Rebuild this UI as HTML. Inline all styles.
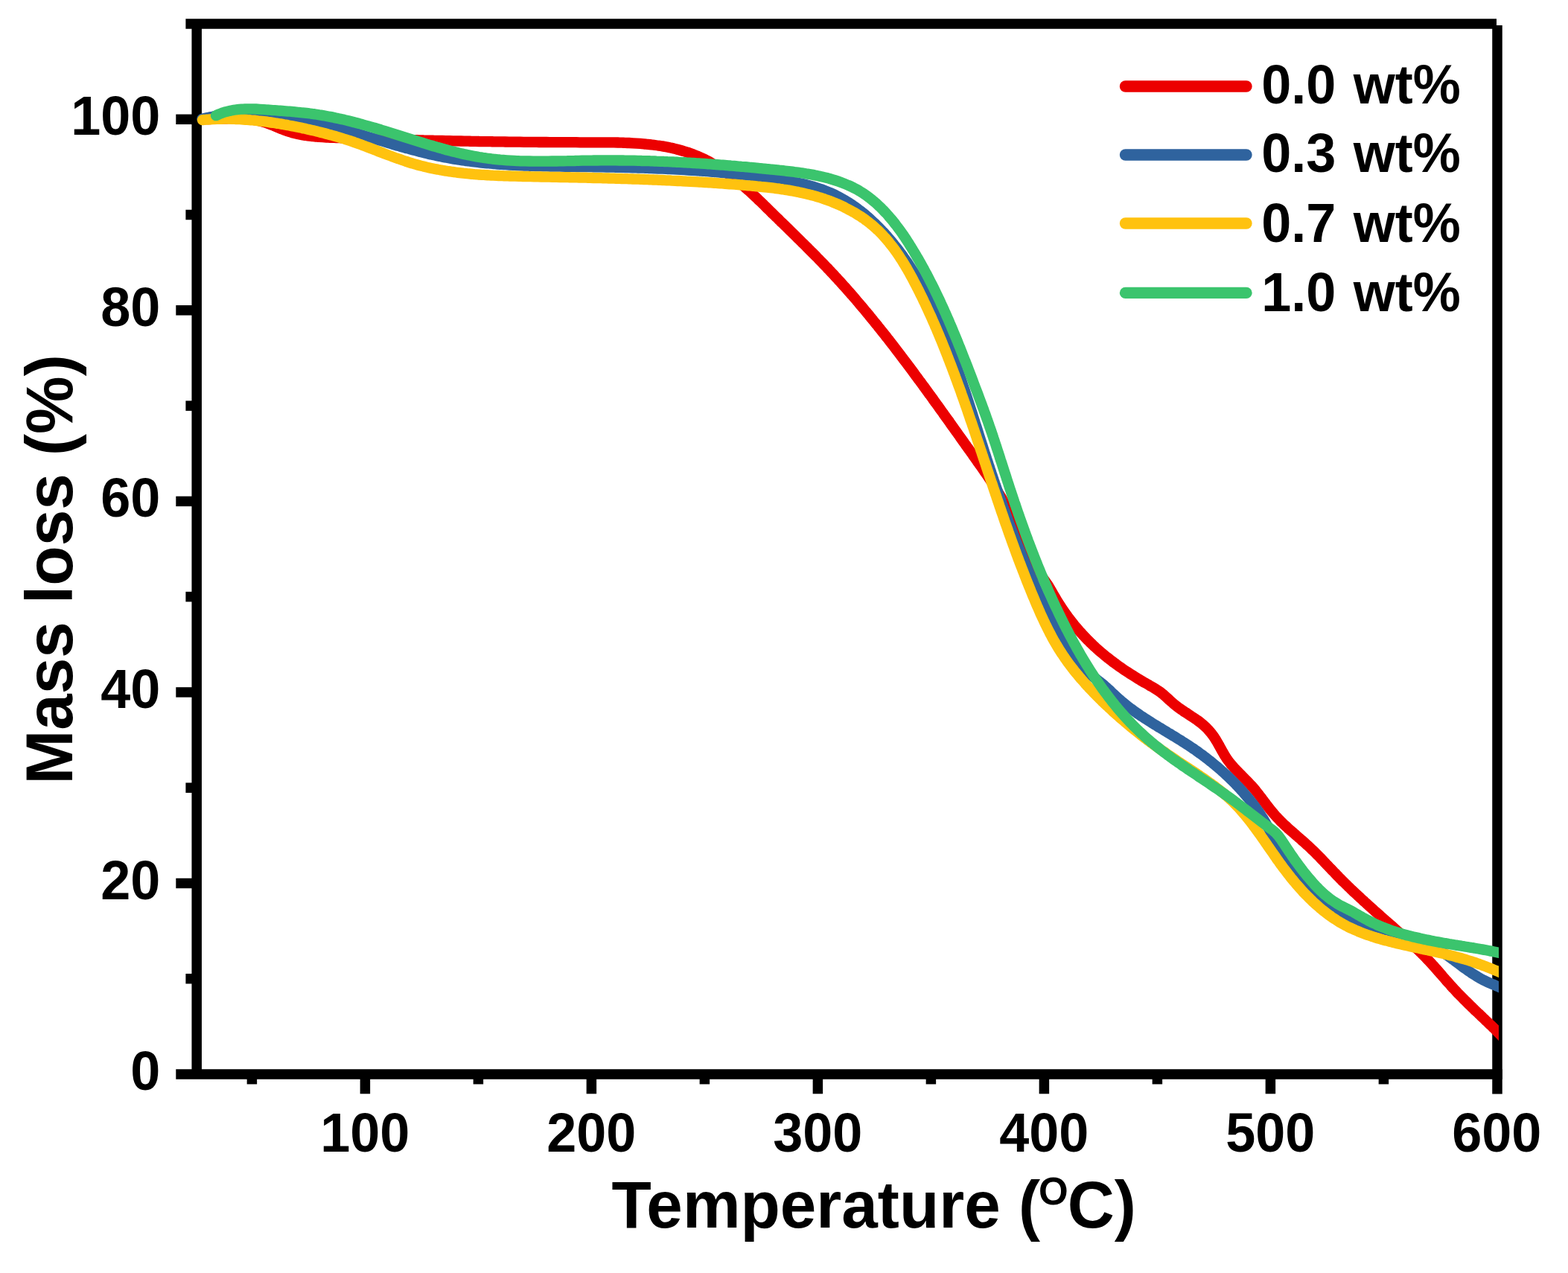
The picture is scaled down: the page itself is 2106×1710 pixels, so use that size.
<!DOCTYPE html>
<html lang="en">
<head>
<meta charset="utf-8">
<title>Mass loss vs Temperature</title>
<style>
html,body{margin:0;padding:0;background:#fff;}
body{width:2106px;height:1710px;overflow:hidden;}
svg{display:block;filter:blur(0.5px);}
text{font-family:"Liberation Sans",Arial,Helvetica,sans-serif;font-weight:bold;fill:#000;}
.tk{font-size:72px;}
.ttl{font-size:87.3px;}
.lg{font-size:72px;}
.ax{stroke:#000;fill:none;stroke-linecap:butt;}
.cv{fill:none;stroke-linecap:round;stroke-linejoin:round;}
</style>
</head>
<body>
<svg width="2106" height="1710" viewBox="0 0 2106 1710">
<rect x="0" y="0" width="2106" height="1710" fill="#ffffff"/>
<g class="ax" stroke-width="13.5">
<line x1="249.4" y1="32.0" x2="2010" y2="32.0"/>
<line x1="236.3" y1="1443.0" x2="2017.8" y2="1443.0"/>
<line x1="264.2" y1="32.0" x2="264.2" y2="1443.0"/>
<line x1="2011.0" y1="34" x2="2011.0" y2="1469.5"/>
<line x1="249.4" y1="1314.7" x2="264.2" y2="1314.7"/>
<line x1="236.3" y1="1186.5" x2="264.2" y2="1186.5"/>
<line x1="249.4" y1="1058.2" x2="264.2" y2="1058.2"/>
<line x1="236.3" y1="929.9" x2="264.2" y2="929.9"/>
<line x1="249.4" y1="801.6" x2="264.2" y2="801.6"/>
<line x1="236.3" y1="673.4" x2="264.2" y2="673.4"/>
<line x1="249.4" y1="545.1" x2="264.2" y2="545.1"/>
<line x1="236.3" y1="416.8" x2="264.2" y2="416.8"/>
<line x1="249.4" y1="288.5" x2="264.2" y2="288.5"/>
<line x1="236.3" y1="160.3" x2="264.2" y2="160.3"/>
<line x1="338.4" y1="1443.0" x2="338.4" y2="1456.4"/>
<line x1="490.4" y1="1443.0" x2="490.4" y2="1469.3"/>
<line x1="642.4" y1="1443.0" x2="642.4" y2="1456.4"/>
<line x1="794.4" y1="1443.0" x2="794.4" y2="1469.3"/>
<line x1="946.4" y1="1443.0" x2="946.4" y2="1456.4"/>
<line x1="1098.4" y1="1443.0" x2="1098.4" y2="1469.3"/>
<line x1="1250.4" y1="1443.0" x2="1250.4" y2="1456.4"/>
<line x1="1402.4" y1="1443.0" x2="1402.4" y2="1469.3"/>
<line x1="1554.4" y1="1443.0" x2="1554.4" y2="1456.4"/>
<line x1="1706.4" y1="1443.0" x2="1706.4" y2="1469.3"/>
<line x1="1858.4" y1="1443.0" x2="1858.4" y2="1456.4"/>
</g>
<defs><clipPath id="plotclip"><rect x="258" y="39" width="1755" height="1400"/></clipPath></defs>
<g class="cv" stroke-width="14.3" clip-path="url(#plotclip)">
<path stroke="#ec0000" d="M272.0 160.0 C272.8 160.0 275.3 160.1 276.9 160.0 C278.6 160.0 280.2 160.0 281.9 160.0 C283.6 159.9 285.2 159.9 286.9 159.8 C288.6 159.8 290.2 159.7 291.9 159.7 C293.6 159.6 295.3 159.6 297.0 159.5 C298.7 159.4 300.3 159.4 302.0 159.3 C303.7 159.3 305.4 159.2 307.1 159.2 C308.8 159.2 310.5 159.1 312.2 159.1 C313.8 159.1 315.5 159.1 317.2 159.1 C318.9 159.1 320.6 159.2 322.3 159.2 C323.9 159.3 325.6 159.3 327.3 159.4 C329.0 159.5 330.6 159.7 332.3 159.8 C333.9 160.0 335.6 160.1 337.2 160.3 C338.9 160.6 340.5 160.8 342.1 161.1 C343.8 161.4 345.4 161.7 347.0 162.0 C348.6 162.4 350.2 162.8 351.8 163.2 C353.4 163.6 355.0 164.1 356.6 164.6 C358.1 165.2 359.7 165.7 361.2 166.3 C362.8 166.9 364.3 167.5 365.9 168.2 C367.4 168.8 369.0 169.5 370.5 170.1 C372.1 170.7 373.6 171.4 375.1 172.1 C376.7 172.7 378.2 173.3 379.8 173.9 C381.3 174.5 382.9 175.1 384.4 175.7 C386.0 176.2 387.6 176.7 389.2 177.2 C390.8 177.7 392.3 178.1 393.9 178.6 C395.5 179.0 397.2 179.4 398.8 179.7 C400.4 180.1 402.0 180.4 403.6 180.8 C405.3 181.1 406.9 181.4 408.5 181.6 C410.2 181.9 411.8 182.1 413.5 182.4 C415.1 182.6 416.8 182.8 418.4 183.0 C420.1 183.2 421.7 183.3 423.4 183.5 C425.1 183.6 426.7 183.8 428.4 183.9 C430.1 184.0 431.8 184.1 433.4 184.2 C435.1 184.3 436.8 184.4 438.5 184.5 C440.2 184.6 441.8 184.7 443.5 184.8 C445.2 184.8 446.9 184.9 448.6 184.9 C450.3 185.0 452.0 185.1 453.6 185.1 C455.3 185.2 457.0 185.2 458.7 185.3 C460.4 185.3 462.0 185.4 463.7 185.5 C465.4 185.5 467.1 185.6 468.8 185.6 C470.4 185.7 472.1 185.7 473.8 185.8 C475.5 185.8 477.2 185.9 478.8 185.9 C480.5 186.0 482.2 186.0 483.9 186.1 C485.5 186.2 487.2 186.2 488.9 186.3 C490.6 186.3 492.2 186.4 493.9 186.4 C495.6 186.5 497.3 186.5 498.9 186.6 C500.6 186.6 502.3 186.7 503.9 186.7 C505.6 186.8 507.3 186.8 509.0 186.9 C510.6 186.9 512.3 187.0 514.0 187.0 C515.6 187.1 517.3 187.1 519.0 187.1 C520.6 187.2 522.3 187.2 524.0 187.3 C525.6 187.3 527.3 187.4 529.0 187.4 C530.6 187.5 532.3 187.5 534.0 187.6 C535.6 187.6 537.3 187.7 539.0 187.7 C540.6 187.7 542.3 187.8 544.0 187.8 C545.6 187.9 547.3 187.9 548.9 188.0 C550.6 188.0 552.3 188.0 553.9 188.1 C555.6 188.1 557.3 188.2 558.9 188.2 C560.6 188.3 562.3 188.3 563.9 188.3 C565.6 188.4 567.2 188.4 568.9 188.5 C570.6 188.5 572.2 188.5 573.9 188.6 C575.5 188.6 577.2 188.7 578.9 188.7 C580.5 188.7 582.2 188.8 583.8 188.8 C585.5 188.8 587.2 188.9 588.8 188.9 C590.5 188.9 592.2 189.0 593.8 189.0 C595.5 189.1 597.1 189.1 598.8 189.1 C600.5 189.2 602.1 189.2 603.8 189.2 C605.4 189.3 607.1 189.3 608.8 189.3 C610.4 189.4 612.1 189.4 613.7 189.4 C615.4 189.5 617.0 189.5 618.7 189.5 C620.4 189.6 622.0 189.6 623.7 189.6 C625.3 189.7 627.0 189.7 628.7 189.7 C630.3 189.7 632.0 189.8 633.7 189.8 C635.3 189.8 637.0 189.9 638.6 189.9 C640.3 189.9 642.0 189.9 643.6 190.0 C645.3 190.0 646.9 190.0 648.6 190.1 C650.3 190.1 651.9 190.1 653.6 190.1 C655.2 190.2 656.9 190.2 658.6 190.2 C660.2 190.2 661.9 190.3 663.6 190.3 C665.2 190.3 666.9 190.3 668.5 190.4 C670.2 190.4 671.9 190.4 673.5 190.4 C675.2 190.4 676.9 190.5 678.5 190.5 C680.2 190.5 681.9 190.5 683.5 190.6 C685.2 190.6 686.9 190.6 688.5 190.6 C690.2 190.6 691.8 190.7 693.5 190.7 C695.2 190.7 696.8 190.7 698.5 190.7 C700.2 190.8 701.9 190.8 703.5 190.8 C705.2 190.8 706.9 190.8 708.5 190.8 C710.2 190.9 711.9 190.9 713.5 190.9 C715.2 190.9 716.9 190.9 718.5 190.9 C720.2 190.9 721.9 191.0 723.6 191.0 C725.2 191.0 726.9 191.0 728.6 191.0 C730.3 191.0 731.9 191.0 733.6 191.0 C735.3 191.1 737.0 191.1 738.6 191.1 C740.3 191.1 742.0 191.1 743.7 191.1 C745.3 191.1 747.0 191.1 748.7 191.1 C750.4 191.2 752.0 191.2 753.7 191.2 C755.4 191.2 757.1 191.2 758.8 191.2 C760.4 191.2 762.1 191.2 763.8 191.2 C765.5 191.2 767.2 191.2 768.9 191.2 C770.5 191.2 772.2 191.2 773.9 191.2 C775.6 191.3 777.3 191.3 779.0 191.3 C780.7 191.3 782.4 191.3 784.0 191.3 C785.7 191.3 787.4 191.3 789.1 191.3 C790.8 191.3 792.5 191.3 794.2 191.3 C795.9 191.3 797.6 191.3 799.3 191.3 C801.0 191.3 802.6 191.3 804.3 191.3 C806.0 191.3 807.7 191.3 809.4 191.3 C811.1 191.3 812.8 191.3 814.5 191.3 C816.2 191.3 817.9 191.4 819.6 191.4 C821.3 191.4 823.0 191.4 824.7 191.4 C826.4 191.5 828.1 191.5 829.7 191.5 C831.4 191.6 833.1 191.6 834.8 191.7 C836.5 191.7 838.2 191.8 839.9 191.8 C841.5 191.9 843.2 192.0 844.9 192.0 C846.6 192.1 848.3 192.2 850.0 192.3 C851.6 192.4 853.3 192.5 855.0 192.6 C856.6 192.7 858.3 192.8 860.0 192.9 C861.7 193.1 863.3 193.2 865.0 193.3 C866.6 193.5 868.3 193.6 870.0 193.8 C871.6 194.0 873.3 194.2 874.9 194.4 C876.6 194.5 878.2 194.8 879.8 195.0 C881.5 195.2 883.1 195.4 884.8 195.7 C886.4 195.9 888.0 196.2 889.6 196.4 C891.3 196.7 892.9 197.0 894.5 197.3 C896.1 197.6 897.7 197.9 899.3 198.3 C901.0 198.6 902.6 198.9 904.2 199.3 C905.8 199.7 907.3 200.0 908.9 200.5 C910.5 200.9 912.1 201.3 913.7 201.7 C915.3 202.1 916.8 202.6 918.4 203.1 C920.0 203.5 921.5 204.0 923.1 204.5 C924.6 205.1 926.2 205.6 927.7 206.1 C929.2 206.7 930.8 207.3 932.3 207.9 C933.8 208.5 935.4 209.1 936.9 209.7 C938.4 210.3 939.9 211.0 941.4 211.7 C942.9 212.4 944.4 213.1 945.9 213.8 C947.4 214.5 948.8 215.3 950.3 216.1 C951.8 216.8 953.2 217.6 954.7 218.4 C956.1 219.3 957.6 220.1 959.0 220.9 C960.5 221.8 961.9 222.7 963.3 223.6 C964.8 224.4 966.2 225.3 967.6 226.3 C969.0 227.2 970.4 228.1 971.8 229.1 C973.2 230.0 974.6 231.0 975.9 232.0 C977.3 233.0 978.7 234.0 980.0 235.0 C981.4 236.0 982.7 237.0 984.1 238.0 C985.4 239.1 986.8 240.1 988.1 241.2 C989.4 242.2 990.7 243.3 992.0 244.4 C993.3 245.4 994.6 246.5 995.9 247.6 C997.2 248.7 998.5 249.8 999.8 250.9 C1001.1 252.0 1002.3 253.1 1003.6 254.2 C1004.8 255.4 1006.1 256.5 1007.3 257.6 C1008.6 258.7 1009.8 259.9 1011.0 261.0 C1012.2 262.1 1013.5 263.3 1014.7 264.4 C1015.9 265.6 1017.1 266.7 1018.3 267.9 C1019.5 269.0 1020.7 270.2 1021.9 271.3 C1023.1 272.5 1024.3 273.7 1025.5 274.8 C1026.7 276.0 1027.9 277.1 1029.1 278.3 C1030.2 279.5 1031.4 280.6 1032.6 281.8 C1033.8 283.0 1035.0 284.1 1036.2 285.3 C1037.3 286.5 1038.5 287.6 1039.7 288.8 C1040.9 290.0 1042.1 291.1 1043.3 292.3 C1044.5 293.5 1045.7 294.6 1046.8 295.8 C1048.0 297.0 1049.2 298.1 1050.4 299.3 C1051.6 300.4 1052.8 301.6 1054.0 302.8 C1055.2 303.9 1056.4 305.1 1057.6 306.3 C1058.8 307.4 1059.9 308.6 1061.1 309.8 C1062.3 310.9 1063.5 312.1 1064.7 313.3 C1065.9 314.4 1067.1 315.6 1068.3 316.8 C1069.5 317.9 1070.7 319.1 1071.8 320.3 C1073.0 321.4 1074.2 322.6 1075.4 323.8 C1076.6 325.0 1077.8 326.1 1079.0 327.3 C1080.2 328.5 1081.3 329.6 1082.5 330.8 C1083.7 332.0 1084.9 333.2 1086.1 334.4 C1087.3 335.5 1088.4 336.7 1089.6 337.9 C1090.8 339.1 1092.0 340.3 1093.1 341.4 C1094.3 342.6 1095.5 343.8 1096.7 345.0 C1097.8 346.2 1099.0 347.4 1100.2 348.6 C1101.3 349.8 1102.5 351.0 1103.7 352.2 C1104.8 353.4 1106.0 354.6 1107.1 355.8 C1108.3 357.0 1109.4 358.2 1110.6 359.4 C1111.8 360.6 1112.9 361.8 1114.0 363.0 C1115.2 364.2 1116.3 365.5 1117.5 366.7 C1118.6 367.9 1119.8 369.1 1120.9 370.3 C1122.0 371.6 1123.2 372.8 1124.3 374.0 C1125.4 375.2 1126.5 376.5 1127.7 377.7 C1128.8 378.9 1129.9 380.2 1131.0 381.4 C1132.1 382.7 1133.3 383.9 1134.4 385.2 C1135.5 386.4 1136.6 387.6 1137.7 388.9 C1138.8 390.1 1139.9 391.4 1141.0 392.7 C1142.1 393.9 1143.2 395.2 1144.3 396.4 C1145.4 397.7 1146.5 398.9 1147.6 400.2 C1148.7 401.5 1149.8 402.7 1150.8 404.0 C1151.9 405.3 1153.0 406.6 1154.1 407.8 C1155.2 409.1 1156.3 410.4 1157.3 411.7 C1158.4 412.9 1159.5 414.2 1160.6 415.5 C1161.6 416.8 1162.7 418.1 1163.8 419.3 C1164.8 420.6 1165.9 421.9 1167.0 423.2 C1168.0 424.5 1169.1 425.8 1170.1 427.1 C1171.2 428.4 1172.3 429.7 1173.3 431.0 C1174.4 432.3 1175.4 433.6 1176.5 434.9 C1177.5 436.2 1178.6 437.5 1179.6 438.8 C1180.7 440.1 1181.7 441.4 1182.7 442.7 C1183.8 444.0 1184.8 445.3 1185.9 446.6 C1186.9 447.9 1187.9 449.2 1189.0 450.5 C1190.0 451.9 1191.0 453.2 1192.1 454.5 C1193.1 455.8 1194.1 457.1 1195.1 458.4 C1196.2 459.8 1197.2 461.1 1198.2 462.4 C1199.2 463.7 1200.3 465.0 1201.3 466.4 C1202.3 467.7 1203.3 469.0 1204.3 470.3 C1205.4 471.7 1206.4 473.0 1207.4 474.3 C1208.4 475.7 1209.4 477.0 1210.4 478.3 C1211.4 479.7 1212.4 481.0 1213.4 482.3 C1214.5 483.7 1215.5 485.0 1216.5 486.3 C1217.5 487.7 1218.5 489.0 1219.5 490.3 C1220.5 491.7 1221.5 493.0 1222.5 494.4 C1223.5 495.7 1224.5 497.0 1225.5 498.4 C1226.5 499.7 1227.5 501.1 1228.4 502.4 C1229.4 503.7 1230.4 505.1 1231.4 506.4 C1232.4 507.8 1233.4 509.1 1234.4 510.5 C1235.4 511.8 1236.4 513.2 1237.4 514.5 C1238.3 515.8 1239.3 517.2 1240.3 518.5 C1241.3 519.9 1242.3 521.2 1243.3 522.6 C1244.3 523.9 1245.2 525.3 1246.2 526.6 C1247.2 528.0 1248.2 529.3 1249.2 530.7 C1250.1 532.0 1251.1 533.4 1252.1 534.7 C1253.1 536.1 1254.0 537.4 1255.0 538.8 C1256.0 540.1 1257.0 541.5 1257.9 542.8 C1258.9 544.2 1259.9 545.5 1260.9 546.9 C1261.8 548.3 1262.8 549.6 1263.8 551.0 C1264.8 552.3 1265.7 553.7 1266.7 555.0 C1267.7 556.4 1268.6 557.7 1269.6 559.1 C1270.6 560.4 1271.5 561.8 1272.5 563.1 C1273.5 564.5 1274.5 565.8 1275.4 567.2 C1276.4 568.6 1277.4 569.9 1278.3 571.3 C1279.3 572.6 1280.3 574.0 1281.2 575.3 C1282.2 576.7 1283.2 578.1 1284.1 579.4 C1285.1 580.8 1286.1 582.1 1287.0 583.5 C1288.0 584.8 1289.0 586.2 1289.9 587.6 C1290.9 588.9 1291.9 590.3 1292.8 591.6 C1293.8 593.0 1294.8 594.4 1295.7 595.7 C1296.7 597.1 1297.7 598.4 1298.6 599.8 C1299.6 601.2 1300.6 602.5 1301.5 603.9 C1302.5 605.2 1303.5 606.6 1304.4 608.0 C1305.4 609.3 1306.4 610.7 1307.3 612.1 C1308.3 613.4 1309.3 614.8 1310.2 616.2 C1311.2 617.5 1312.2 618.9 1313.1 620.3 C1314.1 621.6 1315.1 623.0 1316.0 624.4 C1317.0 625.7 1318.0 627.1 1318.9 628.5 C1319.9 629.8 1320.8 631.2 1321.8 632.6 C1322.7 634.0 1323.7 635.4 1324.6 636.7 C1325.6 638.1 1326.5 639.5 1327.5 640.9 C1328.4 642.3 1329.3 643.7 1330.3 645.1 C1331.2 646.5 1332.1 647.9 1333.0 649.3 C1333.9 650.7 1334.8 652.1 1335.7 653.5 C1336.6 654.9 1337.5 656.3 1338.4 657.7 C1339.3 659.1 1340.2 660.6 1341.0 662.0 C1341.9 663.4 1342.7 664.9 1343.6 666.3 C1344.4 667.7 1345.3 669.2 1346.1 670.6 C1346.9 672.1 1347.7 673.5 1348.5 675.0 C1349.3 676.4 1350.1 677.9 1350.9 679.4 C1351.7 680.9 1352.4 682.3 1353.2 683.8 C1353.9 685.3 1354.7 686.8 1355.4 688.3 C1356.1 689.8 1356.8 691.3 1357.5 692.8 C1358.2 694.4 1358.9 695.9 1359.6 697.4 C1360.2 698.9 1360.9 700.5 1361.6 702.0 C1362.2 703.5 1362.9 705.1 1363.5 706.6 C1364.1 708.2 1364.8 709.7 1365.4 711.2 C1366.0 712.8 1366.7 714.3 1367.3 715.9 C1367.9 717.4 1368.6 719.0 1369.2 720.5 C1369.9 722.1 1370.5 723.6 1371.1 725.1 C1371.8 726.7 1372.4 728.2 1373.1 729.7 C1373.8 731.3 1374.4 732.8 1375.1 734.3 C1375.8 735.8 1376.5 737.3 1377.2 738.8 C1377.9 740.4 1378.7 741.9 1379.4 743.3 C1380.2 744.8 1380.9 746.3 1381.7 747.8 C1382.5 749.2 1383.3 750.7 1384.1 752.1 C1384.9 753.6 1385.8 755.0 1386.6 756.4 C1387.5 757.9 1388.4 759.3 1389.3 760.7 C1390.3 762.1 1391.2 763.4 1392.2 764.8 C1393.2 766.2 1394.2 767.5 1395.2 768.9 C1396.1 770.2 1397.2 771.6 1398.2 772.9 C1399.2 774.3 1400.2 775.6 1401.1 777.0 C1402.1 778.3 1403.1 779.7 1404.1 781.1 C1405.0 782.4 1406.0 783.8 1406.9 785.2 C1407.8 786.6 1408.7 788.0 1409.5 789.4 C1410.4 790.8 1411.2 792.3 1412.1 793.7 C1412.9 795.1 1413.7 796.5 1414.5 798.0 C1415.4 799.4 1416.2 800.8 1417.0 802.3 C1417.8 803.7 1418.7 805.1 1419.5 806.6 C1420.4 808.0 1421.3 809.4 1422.2 810.8 C1423.0 812.2 1423.9 813.6 1424.9 815.0 C1425.8 816.4 1426.7 817.8 1427.6 819.2 C1428.6 820.5 1429.5 821.9 1430.5 823.3 C1431.5 824.6 1432.4 826.0 1433.4 827.4 C1434.4 828.7 1435.4 830.1 1436.4 831.4 C1437.4 832.7 1438.5 834.1 1439.5 835.4 C1440.5 836.7 1441.6 838.0 1442.6 839.3 C1443.7 840.6 1444.8 841.9 1445.9 843.2 C1446.9 844.5 1448.0 845.7 1449.1 847.0 C1450.2 848.2 1451.4 849.5 1452.5 850.7 C1453.6 852.0 1454.7 853.2 1455.9 854.4 C1457.0 855.7 1458.2 856.9 1459.4 858.1 C1460.5 859.3 1461.7 860.5 1462.9 861.6 C1464.1 862.8 1465.3 864.0 1466.5 865.1 C1467.7 866.3 1468.9 867.4 1470.1 868.6 C1471.3 869.7 1472.6 870.8 1473.8 871.9 C1475.1 873.0 1476.3 874.1 1477.6 875.2 C1478.8 876.3 1480.1 877.4 1481.4 878.4 C1482.7 879.5 1483.9 880.6 1485.2 881.6 C1486.5 882.6 1487.8 883.7 1489.1 884.7 C1490.4 885.7 1491.8 886.7 1493.1 887.7 C1494.4 888.8 1495.7 889.8 1497.1 890.7 C1498.4 891.7 1499.8 892.7 1501.1 893.7 C1502.5 894.6 1503.8 895.6 1505.2 896.6 C1506.6 897.5 1507.9 898.5 1509.3 899.4 C1510.7 900.3 1512.1 901.3 1513.5 902.2 C1514.9 903.1 1516.3 904.0 1517.7 904.9 C1519.1 905.8 1520.5 906.7 1521.9 907.6 C1523.3 908.5 1524.7 909.4 1526.2 910.2 C1527.6 911.1 1529.0 912.0 1530.4 912.8 C1531.9 913.7 1533.3 914.6 1534.8 915.4 C1536.2 916.3 1537.7 917.1 1539.1 917.9 C1540.6 918.8 1542.0 919.6 1543.5 920.4 C1544.9 921.3 1546.4 922.1 1547.8 922.9 C1549.3 923.8 1550.7 924.7 1552.1 925.5 C1553.5 926.4 1554.9 927.3 1556.3 928.3 C1557.7 929.2 1559.0 930.2 1560.3 931.2 C1561.6 932.3 1562.9 933.3 1564.1 934.4 C1565.4 935.5 1566.6 936.6 1567.8 937.7 C1569.1 938.8 1570.3 940.0 1571.5 941.1 C1572.8 942.2 1574.0 943.3 1575.3 944.4 C1576.5 945.5 1577.8 946.6 1579.1 947.6 C1580.4 948.7 1581.7 949.7 1583.1 950.7 C1584.5 951.7 1585.8 952.6 1587.2 953.6 C1588.6 954.5 1590.0 955.5 1591.4 956.4 C1592.8 957.3 1594.3 958.2 1595.7 959.2 C1597.1 960.1 1598.5 961.0 1599.9 961.9 C1601.3 962.8 1602.7 963.8 1604.1 964.7 C1605.5 965.7 1606.9 966.6 1608.3 967.6 C1609.6 968.5 1610.9 969.5 1612.3 970.6 C1613.6 971.6 1614.8 972.6 1616.1 973.7 C1617.3 974.8 1618.5 975.9 1619.7 977.0 C1620.9 978.2 1622.0 979.3 1623.1 980.6 C1624.3 981.8 1625.3 983.0 1626.4 984.3 C1627.4 985.6 1628.4 986.9 1629.3 988.2 C1630.3 989.5 1631.2 990.9 1632.1 992.3 C1633.0 993.7 1633.8 995.1 1634.7 996.6 C1635.5 998.0 1636.3 999.5 1637.1 1000.9 C1638.0 1002.4 1638.7 1003.9 1639.6 1005.3 C1640.4 1006.8 1641.2 1008.3 1642.0 1009.7 C1642.8 1011.2 1643.6 1012.6 1644.5 1014.1 C1645.4 1015.5 1646.2 1016.9 1647.2 1018.3 C1648.1 1019.7 1649.1 1021.0 1650.0 1022.3 C1651.0 1023.7 1652.1 1025.0 1653.1 1026.3 C1654.2 1027.5 1655.3 1028.8 1656.4 1030.0 C1657.5 1031.3 1658.6 1032.5 1659.7 1033.7 C1660.9 1034.9 1662.0 1036.1 1663.2 1037.3 C1664.4 1038.5 1665.6 1039.7 1666.7 1040.9 C1667.9 1042.1 1669.1 1043.3 1670.3 1044.5 C1671.5 1045.7 1672.7 1046.9 1673.8 1048.1 C1675.0 1049.3 1676.2 1050.5 1677.3 1051.7 C1678.5 1052.9 1679.6 1054.1 1680.8 1055.4 C1681.9 1056.6 1683.0 1057.9 1684.1 1059.1 C1685.2 1060.4 1686.2 1061.7 1687.3 1063.0 C1688.3 1064.3 1689.4 1065.6 1690.4 1066.9 C1691.4 1068.2 1692.4 1069.6 1693.4 1070.9 C1694.5 1072.2 1695.5 1073.6 1696.5 1074.9 C1697.5 1076.2 1698.5 1077.6 1699.5 1078.9 C1700.5 1080.2 1701.5 1081.6 1702.5 1082.9 C1703.5 1084.2 1704.5 1085.5 1705.6 1086.9 C1706.6 1088.2 1707.7 1089.5 1708.7 1090.7 C1709.8 1092.0 1710.9 1093.3 1712.0 1094.5 C1713.1 1095.8 1714.2 1097.0 1715.3 1098.2 C1716.4 1099.4 1717.6 1100.6 1718.8 1101.8 C1719.9 1103.0 1721.1 1104.2 1722.3 1105.3 C1723.5 1106.5 1724.7 1107.6 1725.9 1108.8 C1727.2 1109.9 1728.4 1111.0 1729.6 1112.2 C1730.9 1113.3 1732.1 1114.4 1733.4 1115.5 C1734.6 1116.6 1735.9 1117.7 1737.2 1118.8 C1738.4 1119.9 1739.7 1121.0 1740.9 1122.1 C1742.2 1123.2 1743.5 1124.3 1744.7 1125.4 C1746.0 1126.5 1747.3 1127.6 1748.5 1128.7 C1749.8 1129.8 1751.1 1130.9 1752.3 1132.0 C1753.6 1133.2 1754.8 1134.3 1756.0 1135.4 C1757.3 1136.5 1758.5 1137.7 1759.7 1138.8 C1760.9 1140.0 1762.1 1141.1 1763.3 1142.3 C1764.5 1143.4 1765.7 1144.6 1766.9 1145.8 C1768.1 1147.0 1769.2 1148.2 1770.4 1149.3 C1771.6 1150.5 1772.8 1151.7 1773.9 1152.9 C1775.1 1154.1 1776.2 1155.3 1777.4 1156.5 C1778.5 1157.7 1779.7 1159.0 1780.8 1160.2 C1782.0 1161.4 1783.1 1162.6 1784.3 1163.8 C1785.4 1165.0 1786.6 1166.2 1787.7 1167.4 C1788.9 1168.6 1790.0 1169.8 1791.2 1171.0 C1792.3 1172.2 1793.5 1173.4 1794.6 1174.6 C1795.8 1175.8 1797.0 1177.0 1798.1 1178.2 C1799.3 1179.4 1800.5 1180.6 1801.7 1181.8 C1802.8 1183.0 1804.0 1184.1 1805.2 1185.3 C1806.4 1186.5 1807.6 1187.7 1808.8 1188.8 C1810.0 1190.0 1811.2 1191.1 1812.4 1192.3 C1813.6 1193.5 1814.8 1194.6 1816.0 1195.8 C1817.2 1196.9 1818.4 1198.1 1819.7 1199.2 C1820.9 1200.4 1822.1 1201.5 1823.3 1202.6 C1824.5 1203.8 1825.8 1204.9 1827.0 1206.1 C1828.2 1207.2 1829.5 1208.3 1830.7 1209.4 C1831.9 1210.6 1833.2 1211.7 1834.4 1212.8 C1835.6 1214.0 1836.9 1215.1 1838.1 1216.2 C1839.4 1217.3 1840.6 1218.4 1841.8 1219.5 C1843.1 1220.7 1844.3 1221.8 1845.6 1222.9 C1846.8 1224.0 1848.1 1225.1 1849.3 1226.2 C1850.6 1227.3 1851.8 1228.4 1853.1 1229.6 C1854.3 1230.7 1855.6 1231.8 1856.8 1232.9 C1858.1 1234.0 1859.3 1235.1 1860.6 1236.2 C1861.8 1237.3 1863.1 1238.4 1864.3 1239.5 C1865.6 1240.6 1866.8 1241.7 1868.1 1242.8 C1869.4 1243.9 1870.6 1245.0 1871.9 1246.1 C1873.1 1247.2 1874.4 1248.3 1875.6 1249.4 C1876.8 1250.5 1878.1 1251.6 1879.3 1252.7 C1880.6 1253.8 1881.8 1254.9 1883.1 1256.0 C1884.3 1257.1 1885.5 1258.2 1886.8 1259.4 C1888.0 1260.5 1889.2 1261.6 1890.5 1262.7 C1891.7 1263.8 1892.9 1264.9 1894.2 1266.1 C1895.4 1267.2 1896.6 1268.3 1897.8 1269.5 C1899.0 1270.6 1900.2 1271.7 1901.4 1272.9 C1902.6 1274.0 1903.8 1275.2 1905.0 1276.3 C1906.2 1277.5 1907.4 1278.6 1908.6 1279.8 C1909.8 1281.0 1910.9 1282.2 1912.1 1283.3 C1913.3 1284.5 1914.4 1285.7 1915.6 1286.9 C1916.7 1288.1 1917.9 1289.3 1919.0 1290.5 C1920.2 1291.8 1921.3 1293.0 1922.4 1294.2 C1923.5 1295.5 1924.6 1296.7 1925.8 1297.9 C1926.9 1299.2 1928.0 1300.4 1929.1 1301.7 C1930.2 1302.9 1931.3 1304.2 1932.4 1305.4 C1933.5 1306.7 1934.6 1308.0 1935.7 1309.2 C1936.8 1310.5 1937.9 1311.7 1939.0 1313.0 C1940.1 1314.3 1941.2 1315.5 1942.3 1316.8 C1943.4 1318.0 1944.5 1319.3 1945.7 1320.5 C1946.8 1321.8 1947.9 1323.0 1949.0 1324.3 C1950.1 1325.5 1951.2 1326.8 1952.4 1328.0 C1953.5 1329.2 1954.6 1330.4 1955.8 1331.6 C1956.9 1332.9 1958.1 1334.1 1959.2 1335.3 C1960.4 1336.5 1961.6 1337.7 1962.7 1338.8 C1963.9 1340.0 1965.1 1341.2 1966.2 1342.4 C1967.4 1343.6 1968.6 1344.7 1969.8 1345.9 C1971.0 1347.1 1972.2 1348.3 1973.3 1349.4 C1974.5 1350.6 1975.7 1351.7 1976.9 1352.9 C1978.1 1354.1 1979.3 1355.2 1980.5 1356.4 C1981.7 1357.5 1982.9 1358.7 1984.1 1359.8 C1985.3 1361.0 1986.6 1362.1 1987.8 1363.3 C1989.0 1364.4 1990.2 1365.6 1991.4 1366.7 C1992.6 1367.9 1993.8 1369.0 1995.0 1370.2 C1996.2 1371.3 1997.4 1372.5 1998.6 1373.6 C1999.8 1374.8 2001.0 1375.9 2002.2 1377.1 C2003.4 1378.2 2004.6 1379.4 2005.8 1380.6 C2007.0 1381.7 2008.2 1382.9 2009.4 1384.1 C2010.6 1385.3 2011.8 1386.5 2012.9 1387.6 C2014.1 1388.8 2015.3 1390.0 2016.4 1391.2 C2017.6 1392.4 2018.8 1393.6 2019.9 1394.9 C2021.1 1396.1 2022.2 1397.3 2023.3 1398.5 C2024.4 1399.8 2025.6 1401.0 2026.7 1402.2 C2027.8 1403.5 2029.4 1405.4 2030.0 1406.0"/>
<path stroke="#2f639e" d="M271.5 159.8 C272.3 159.6 274.9 158.9 276.6 158.5 C278.3 158.1 280.0 157.8 281.7 157.4 C283.4 157.1 285.1 156.8 286.8 156.4 C288.5 156.1 290.2 155.8 291.9 155.6 C293.6 155.3 295.3 155.0 297.0 154.8 C298.7 154.5 300.4 154.3 302.1 154.1 C303.8 153.9 305.5 153.7 307.2 153.6 C308.8 153.4 310.5 153.2 312.2 153.1 C313.9 153.0 315.6 152.8 317.2 152.7 C318.9 152.6 320.6 152.5 322.3 152.5 C323.9 152.4 325.6 152.3 327.3 152.3 C328.9 152.3 330.6 152.2 332.3 152.2 C333.9 152.2 335.6 152.2 337.3 152.2 C338.9 152.2 340.6 152.3 342.2 152.3 C343.9 152.4 345.6 152.4 347.2 152.5 C348.9 152.6 350.5 152.7 352.2 152.8 C353.8 152.8 355.5 153.0 357.1 153.1 C358.8 153.2 360.4 153.3 362.1 153.5 C363.7 153.6 365.4 153.8 367.0 154.0 C368.6 154.1 370.3 154.3 371.9 154.5 C373.6 154.7 375.2 154.9 376.8 155.1 C378.5 155.4 380.1 155.6 381.8 155.8 C383.4 156.1 385.0 156.3 386.7 156.6 C388.3 156.8 389.9 157.1 391.6 157.4 C393.2 157.7 394.8 157.9 396.4 158.2 C398.1 158.5 399.7 158.8 401.3 159.2 C403.0 159.5 404.6 159.8 406.2 160.1 C407.8 160.5 409.4 160.8 411.1 161.1 C412.7 161.5 414.3 161.8 415.9 162.2 C417.6 162.6 419.2 162.9 420.8 163.3 C422.4 163.7 424.0 164.1 425.7 164.5 C427.3 164.9 428.9 165.2 430.5 165.7 C432.1 166.1 433.7 166.5 435.3 166.9 C437.0 167.3 438.6 167.7 440.2 168.1 C441.8 168.6 443.4 169.0 445.0 169.4 C446.6 169.9 448.3 170.3 449.9 170.7 C451.5 171.2 453.1 171.6 454.7 172.1 C456.3 172.5 457.9 173.0 459.5 173.5 C461.1 173.9 462.7 174.4 464.4 174.9 C466.0 175.3 467.6 175.8 469.2 176.3 C470.8 176.7 472.4 177.2 474.0 177.7 C475.6 178.2 477.2 178.6 478.8 179.1 C480.4 179.6 482.1 180.1 483.7 180.6 C485.3 181.1 486.9 181.5 488.5 182.0 C490.1 182.5 491.7 183.0 493.3 183.5 C494.9 184.0 496.5 184.5 498.1 185.0 C499.7 185.4 501.3 185.9 503.0 186.4 C504.6 186.9 506.2 187.4 507.8 187.9 C509.4 188.4 511.0 188.9 512.6 189.3 C514.2 189.8 515.8 190.3 517.4 190.8 C519.0 191.3 520.6 191.8 522.3 192.2 C523.9 192.7 525.5 193.2 527.1 193.7 C528.7 194.1 530.3 194.6 531.9 195.1 C533.5 195.6 535.1 196.0 536.8 196.5 C538.4 196.9 540.0 197.4 541.6 197.9 C543.2 198.3 544.8 198.8 546.4 199.2 C548.1 199.7 549.7 200.1 551.3 200.5 C552.9 201.0 554.5 201.4 556.1 201.8 C557.7 202.3 559.4 202.7 561.0 203.1 C562.6 203.5 564.2 203.9 565.8 204.3 C567.5 204.7 569.1 205.1 570.7 205.5 C572.3 205.9 574.0 206.3 575.6 206.7 C577.2 207.1 578.8 207.5 580.5 207.8 C582.1 208.2 583.7 208.5 585.3 208.9 C587.0 209.2 588.6 209.6 590.2 209.9 C591.9 210.3 593.5 210.6 595.1 210.9 C596.7 211.2 598.4 211.5 600.0 211.8 C601.7 212.1 603.3 212.4 604.9 212.7 C606.6 213.0 608.2 213.3 609.8 213.6 C611.5 213.8 613.1 214.1 614.8 214.4 C616.4 214.6 618.0 214.9 619.7 215.1 C621.3 215.4 623.0 215.6 624.6 215.8 C626.3 216.0 627.9 216.3 629.6 216.5 C631.2 216.7 632.8 216.9 634.5 217.1 C636.1 217.3 637.8 217.5 639.4 217.7 C641.1 217.9 642.7 218.1 644.4 218.3 C646.0 218.4 647.7 218.6 649.4 218.8 C651.0 218.9 652.7 219.1 654.3 219.3 C656.0 219.4 657.6 219.6 659.3 219.7 C660.9 219.8 662.6 220.0 664.3 220.1 C665.9 220.2 667.6 220.4 669.2 220.5 C670.9 220.6 672.5 220.7 674.2 220.9 C675.9 221.0 677.5 221.1 679.2 221.2 C680.9 221.3 682.5 221.4 684.2 221.5 C685.8 221.6 687.5 221.7 689.2 221.8 C690.8 221.9 692.5 221.9 694.2 222.0 C695.8 222.1 697.5 222.2 699.2 222.3 C700.8 222.3 702.5 222.4 704.2 222.5 C705.8 222.5 707.5 222.6 709.2 222.7 C710.8 222.7 712.5 222.8 714.2 222.8 C715.8 222.9 717.5 222.9 719.2 223.0 C720.8 223.0 722.5 223.1 724.2 223.1 C725.8 223.2 727.5 223.2 729.2 223.3 C730.8 223.3 732.5 223.3 734.2 223.4 C735.9 223.4 737.5 223.4 739.2 223.5 C740.9 223.5 742.5 223.5 744.2 223.6 C745.9 223.6 747.6 223.6 749.2 223.7 C750.9 223.7 752.6 223.7 754.2 223.7 C755.9 223.8 757.6 223.8 759.3 223.8 C760.9 223.8 762.6 223.8 764.3 223.9 C766.0 223.9 767.6 223.9 769.3 223.9 C771.0 223.9 772.6 224.0 774.3 224.0 C776.0 224.0 777.7 224.0 779.3 224.0 C781.0 224.1 782.7 224.1 784.3 224.1 C786.0 224.1 787.7 224.1 789.4 224.2 C791.0 224.2 792.7 224.2 794.4 224.2 C796.0 224.2 797.7 224.3 799.4 224.3 C801.1 224.3 802.7 224.3 804.4 224.4 C806.1 224.4 807.7 224.4 809.4 224.4 C811.1 224.5 812.8 224.5 814.4 224.5 C816.1 224.6 817.8 224.6 819.4 224.6 C821.1 224.6 822.8 224.7 824.5 224.7 C826.1 224.7 827.8 224.8 829.5 224.8 C831.1 224.8 832.8 224.9 834.5 224.9 C836.1 225.0 837.8 225.0 839.5 225.0 C841.2 225.1 842.8 225.1 844.5 225.2 C846.2 225.2 847.8 225.2 849.5 225.3 C851.2 225.3 852.8 225.4 854.5 225.4 C856.2 225.5 857.8 225.5 859.5 225.6 C861.2 225.6 862.9 225.7 864.5 225.7 C866.2 225.8 867.9 225.8 869.5 225.9 C871.2 226.0 872.9 226.0 874.5 226.1 C876.2 226.1 877.9 226.2 879.5 226.3 C881.2 226.3 882.9 226.4 884.5 226.5 C886.2 226.5 887.9 226.6 889.5 226.7 C891.2 226.7 892.9 226.8 894.5 226.9 C896.2 227.0 897.9 227.0 899.5 227.1 C901.2 227.2 902.9 227.3 904.5 227.4 C906.2 227.4 907.9 227.5 909.5 227.6 C911.2 227.7 912.9 227.8 914.5 227.9 C916.2 228.0 917.9 228.1 919.5 228.2 C921.2 228.3 922.9 228.4 924.5 228.5 C926.2 228.6 927.9 228.7 929.5 228.8 C931.2 228.9 932.9 229.0 934.5 229.1 C936.2 229.2 937.9 229.3 939.5 229.5 C941.2 229.6 942.8 229.7 944.5 229.8 C946.2 229.9 947.8 230.1 949.5 230.2 C951.2 230.3 952.8 230.4 954.5 230.6 C956.2 230.7 957.8 230.8 959.5 231.0 C961.2 231.1 962.8 231.3 964.5 231.4 C966.1 231.5 967.8 231.7 969.5 231.8 C971.1 232.0 972.8 232.1 974.5 232.3 C976.1 232.4 977.8 232.6 979.5 232.8 C981.1 232.9 982.8 233.1 984.4 233.3 C986.1 233.4 987.8 233.6 989.4 233.8 C991.1 233.9 992.8 234.1 994.4 234.3 C996.1 234.5 997.7 234.7 999.4 234.9 C1001.1 235.0 1002.7 235.2 1004.4 235.4 C1006.1 235.6 1007.7 235.8 1009.4 236.0 C1011.0 236.2 1012.7 236.4 1014.4 236.6 C1016.0 236.8 1017.7 237.1 1019.3 237.3 C1021.0 237.5 1022.7 237.7 1024.3 237.9 C1026.0 238.1 1027.6 238.4 1029.3 238.6 C1031.0 238.8 1032.6 239.1 1034.3 239.3 C1036.0 239.5 1037.6 239.8 1039.3 240.0 C1040.9 240.3 1042.6 240.5 1044.3 240.8 C1045.9 241.0 1047.6 241.3 1049.2 241.5 C1050.9 241.8 1052.5 242.1 1054.2 242.4 C1055.9 242.6 1057.5 242.9 1059.2 243.2 C1060.8 243.5 1062.5 243.8 1064.1 244.1 C1065.8 244.4 1067.4 244.8 1069.0 245.1 C1070.7 245.4 1072.3 245.8 1073.9 246.1 C1075.6 246.5 1077.2 246.8 1078.8 247.2 C1080.4 247.6 1082.1 248.0 1083.7 248.4 C1085.3 248.8 1086.9 249.2 1088.5 249.7 C1090.1 250.1 1091.7 250.6 1093.3 251.0 C1094.9 251.5 1096.4 252.0 1098.0 252.5 C1099.6 253.0 1101.2 253.5 1102.7 254.1 C1104.3 254.6 1105.8 255.2 1107.4 255.8 C1108.9 256.4 1110.4 257.0 1112.0 257.6 C1113.5 258.2 1115.0 258.9 1116.5 259.5 C1118.0 260.2 1119.5 260.9 1121.0 261.6 C1122.5 262.3 1124.0 263.1 1125.4 263.8 C1126.9 264.6 1128.4 265.4 1129.8 266.2 C1131.3 267.0 1132.7 267.8 1134.1 268.6 C1135.6 269.5 1137.0 270.3 1138.4 271.2 C1139.8 272.1 1141.2 273.0 1142.6 273.9 C1144.0 274.9 1145.4 275.8 1146.7 276.8 C1148.1 277.7 1149.5 278.7 1150.8 279.7 C1152.1 280.7 1153.5 281.7 1154.8 282.7 C1156.1 283.7 1157.5 284.8 1158.8 285.8 C1160.1 286.9 1161.4 288.0 1162.7 289.0 C1163.9 290.1 1165.2 291.2 1166.5 292.3 C1167.7 293.5 1169.0 294.6 1170.2 295.7 C1171.5 296.9 1172.7 298.0 1173.9 299.2 C1175.2 300.3 1176.4 301.5 1177.6 302.7 C1178.8 303.9 1180.0 305.1 1181.2 306.3 C1182.3 307.5 1183.5 308.7 1184.7 310.0 C1185.8 311.2 1187.0 312.4 1188.1 313.7 C1189.2 314.9 1190.4 316.2 1191.5 317.4 C1192.6 318.7 1193.7 320.0 1194.8 321.3 C1195.9 322.5 1197.0 323.8 1198.0 325.1 C1199.1 326.4 1200.2 327.7 1201.2 329.0 C1202.3 330.3 1203.3 331.6 1204.3 332.9 C1205.4 334.3 1206.4 335.6 1207.4 336.9 C1208.4 338.2 1209.4 339.6 1210.4 340.9 C1211.4 342.3 1212.3 343.6 1213.3 345.0 C1214.3 346.3 1215.2 347.7 1216.2 349.0 C1217.1 350.4 1218.1 351.8 1219.0 353.1 C1219.9 354.5 1220.8 355.9 1221.8 357.3 C1222.7 358.7 1223.6 360.1 1224.5 361.5 C1225.3 362.9 1226.2 364.3 1227.1 365.7 C1228.0 367.1 1228.8 368.5 1229.7 369.9 C1230.6 371.3 1231.4 372.7 1232.2 374.2 C1233.1 375.6 1233.9 377.0 1234.7 378.5 C1235.6 379.9 1236.4 381.4 1237.2 382.8 C1238.0 384.2 1238.8 385.7 1239.6 387.1 C1240.4 388.6 1241.2 390.1 1241.9 391.5 C1242.7 393.0 1243.5 394.5 1244.3 395.9 C1245.0 397.4 1245.8 398.9 1246.5 400.4 C1247.3 401.8 1248.0 403.3 1248.7 404.8 C1249.5 406.3 1250.2 407.8 1250.9 409.3 C1251.7 410.8 1252.4 412.3 1253.1 413.8 C1253.8 415.3 1254.5 416.8 1255.2 418.3 C1255.9 419.8 1256.6 421.3 1257.3 422.8 C1257.9 424.3 1258.6 425.8 1259.3 427.4 C1260.0 428.9 1260.6 430.4 1261.3 431.9 C1262.0 433.5 1262.6 435.0 1263.3 436.5 C1263.9 438.1 1264.6 439.6 1265.2 441.1 C1265.8 442.7 1266.5 444.2 1267.1 445.7 C1267.7 447.3 1268.4 448.8 1269.0 450.4 C1269.6 451.9 1270.2 453.5 1270.9 455.0 C1271.5 456.6 1272.1 458.1 1272.7 459.7 C1273.3 461.2 1273.9 462.8 1274.5 464.3 C1275.1 465.9 1275.7 467.5 1276.3 469.0 C1276.9 470.6 1277.4 472.2 1278.0 473.7 C1278.6 475.3 1279.2 476.9 1279.8 478.4 C1280.3 480.0 1280.9 481.6 1281.5 483.1 C1282.0 484.7 1282.6 486.3 1283.2 487.8 C1283.7 489.4 1284.3 491.0 1284.9 492.6 C1285.4 494.1 1286.0 495.7 1286.5 497.3 C1287.1 498.9 1287.6 500.5 1288.2 502.0 C1288.7 503.6 1289.2 505.2 1289.8 506.8 C1290.3 508.4 1290.9 510.0 1291.4 511.5 C1291.9 513.1 1292.5 514.7 1293.0 516.3 C1293.5 517.9 1294.1 519.5 1294.6 521.1 C1295.1 522.7 1295.7 524.3 1296.2 525.8 C1296.7 527.4 1297.2 529.0 1297.7 530.6 C1298.3 532.2 1298.8 533.8 1299.3 535.4 C1299.8 537.0 1300.3 538.6 1300.9 540.2 C1301.4 541.8 1301.9 543.4 1302.4 545.0 C1302.9 546.6 1303.4 548.1 1303.9 549.7 C1304.4 551.3 1305.0 552.9 1305.5 554.5 C1306.0 556.1 1306.5 557.7 1307.0 559.3 C1307.5 560.9 1308.0 562.5 1308.5 564.1 C1309.0 565.7 1309.5 567.3 1310.0 568.9 C1310.6 570.5 1311.1 572.1 1311.6 573.7 C1312.1 575.3 1312.6 576.9 1313.1 578.5 C1313.6 580.1 1314.1 581.7 1314.6 583.3 C1315.1 584.9 1315.6 586.5 1316.1 588.0 C1316.6 589.6 1317.1 591.2 1317.6 592.8 C1318.2 594.4 1318.7 596.0 1319.2 597.6 C1319.7 599.2 1320.2 600.8 1320.7 602.4 C1321.2 604.0 1321.7 605.6 1322.2 607.2 C1322.8 608.8 1323.3 610.3 1323.8 611.9 C1324.3 613.5 1324.8 615.1 1325.3 616.7 C1325.9 618.3 1326.4 619.9 1326.9 621.5 C1327.4 623.0 1327.9 624.6 1328.5 626.2 C1329.0 627.8 1329.5 629.4 1330.0 631.0 C1330.6 632.5 1331.1 634.1 1331.6 635.7 C1332.2 637.3 1332.7 638.9 1333.2 640.4 C1333.8 642.0 1334.3 643.6 1334.8 645.2 C1335.4 646.8 1335.9 648.3 1336.4 649.9 C1337.0 651.5 1337.5 653.1 1338.1 654.6 C1338.6 656.2 1339.2 657.8 1339.7 659.4 C1340.2 660.9 1340.8 662.5 1341.3 664.1 C1341.9 665.6 1342.4 667.2 1343.0 668.8 C1343.6 670.4 1344.1 671.9 1344.7 673.5 C1345.2 675.1 1345.8 676.6 1346.4 678.2 C1346.9 679.8 1347.5 681.3 1348.0 682.9 C1348.6 684.4 1349.2 686.0 1349.8 687.6 C1350.3 689.1 1350.9 690.7 1351.5 692.3 C1352.0 693.8 1352.6 695.4 1353.2 696.9 C1353.8 698.5 1354.4 700.1 1354.9 701.6 C1355.5 703.2 1356.1 704.7 1356.7 706.3 C1357.3 707.8 1357.9 709.4 1358.5 711.0 C1359.1 712.5 1359.7 714.1 1360.3 715.6 C1360.9 717.2 1361.5 718.7 1362.1 720.3 C1362.7 721.8 1363.3 723.4 1363.9 724.9 C1364.5 726.5 1365.1 728.0 1365.7 729.6 C1366.3 731.1 1367.0 732.7 1367.6 734.2 C1368.2 735.8 1368.8 737.3 1369.5 738.8 C1370.1 740.4 1370.7 741.9 1371.3 743.5 C1372.0 745.0 1372.6 746.6 1373.2 748.1 C1373.9 749.6 1374.5 751.2 1375.2 752.7 C1375.8 754.3 1376.4 755.8 1377.1 757.3 C1377.7 758.9 1378.4 760.4 1379.1 761.9 C1379.7 763.5 1380.4 765.0 1381.0 766.6 C1381.7 768.1 1382.4 769.6 1383.0 771.2 C1383.7 772.7 1384.4 774.2 1385.0 775.8 C1385.7 777.3 1386.4 778.8 1387.1 780.3 C1387.7 781.9 1388.4 783.4 1389.1 784.9 C1389.8 786.5 1390.5 788.0 1391.2 789.5 C1391.9 791.0 1392.6 792.6 1393.3 794.1 C1394.0 795.6 1394.7 797.1 1395.4 798.7 C1396.1 800.2 1396.8 801.7 1397.5 803.2 C1398.2 804.7 1399.0 806.3 1399.7 807.8 C1400.4 809.3 1401.1 810.8 1401.8 812.3 C1402.6 813.9 1403.3 815.4 1404.1 816.9 C1404.8 818.4 1405.5 819.9 1406.3 821.4 C1407.0 822.9 1407.8 824.4 1408.5 825.9 C1409.3 827.4 1410.0 828.9 1410.8 830.4 C1411.6 831.9 1412.3 833.4 1413.1 834.9 C1413.9 836.4 1414.7 837.9 1415.5 839.4 C1416.2 840.9 1417.0 842.3 1417.8 843.8 C1418.6 845.3 1419.4 846.7 1420.2 848.2 C1421.1 849.7 1421.9 851.1 1422.7 852.6 C1423.5 854.0 1424.3 855.5 1425.2 856.9 C1426.0 858.4 1426.8 859.8 1427.7 861.2 C1428.5 862.7 1429.4 864.1 1430.2 865.5 C1431.1 866.9 1432.0 868.3 1432.8 869.8 C1433.7 871.2 1434.6 872.6 1435.5 873.9 C1436.4 875.3 1437.3 876.7 1438.2 878.1 C1439.1 879.5 1440.0 880.8 1440.9 882.2 C1441.8 883.5 1442.8 884.8 1443.8 886.1 C1444.8 887.4 1445.8 888.7 1446.8 890.0 C1447.8 891.2 1448.9 892.4 1450.0 893.6 C1451.1 894.8 1452.3 896.0 1453.5 897.1 C1454.6 898.2 1455.9 899.3 1457.1 900.4 C1458.4 901.5 1459.6 902.5 1460.9 903.5 C1462.2 904.6 1463.5 905.6 1464.9 906.6 C1466.2 907.6 1467.5 908.6 1468.8 909.6 C1470.2 910.6 1471.5 911.6 1472.9 912.6 C1474.2 913.7 1475.5 914.7 1476.9 915.7 C1478.2 916.7 1479.5 917.8 1480.8 918.8 C1482.1 919.9 1483.3 921.0 1484.6 922.1 C1485.9 923.2 1487.1 924.3 1488.3 925.5 C1489.6 926.6 1490.8 927.7 1492.0 928.9 C1493.2 930.0 1494.4 931.2 1495.6 932.3 C1496.9 933.5 1498.1 934.6 1499.3 935.7 C1500.5 936.9 1501.8 938.0 1503.0 939.1 C1504.2 940.2 1505.5 941.3 1506.8 942.4 C1508.0 943.4 1509.3 944.5 1510.6 945.5 C1511.9 946.6 1513.2 947.6 1514.5 948.6 C1515.8 949.7 1517.1 950.7 1518.5 951.7 C1519.8 952.7 1521.1 953.6 1522.5 954.6 C1523.8 955.6 1525.2 956.6 1526.6 957.5 C1527.9 958.5 1529.3 959.4 1530.7 960.3 C1532.0 961.3 1533.4 962.2 1534.8 963.1 C1536.2 964.0 1537.6 964.9 1539.0 965.8 C1540.4 966.7 1541.8 967.6 1543.2 968.5 C1544.6 969.4 1546.0 970.3 1547.4 971.2 C1548.8 972.1 1550.2 972.9 1551.7 973.8 C1553.1 974.7 1554.5 975.5 1555.9 976.4 C1557.3 977.3 1558.8 978.1 1560.2 979.0 C1561.6 979.9 1563.0 980.7 1564.5 981.6 C1565.9 982.4 1567.3 983.3 1568.7 984.2 C1570.2 985.0 1571.6 985.9 1573.0 986.7 C1574.4 987.6 1575.9 988.5 1577.3 989.3 C1578.7 990.2 1580.1 991.1 1581.5 992.0 C1583.0 992.8 1584.4 993.7 1585.8 994.6 C1587.2 995.5 1588.6 996.4 1590.0 997.3 C1591.4 998.2 1592.8 999.1 1594.2 1000.0 C1595.6 1000.9 1597.0 1001.8 1598.4 1002.7 C1599.8 1003.6 1601.2 1004.6 1602.5 1005.5 C1603.9 1006.5 1605.3 1007.4 1606.7 1008.4 C1608.0 1009.3 1609.4 1010.3 1610.7 1011.3 C1612.1 1012.3 1613.4 1013.2 1614.8 1014.2 C1616.1 1015.2 1617.5 1016.2 1618.8 1017.2 C1620.1 1018.3 1621.5 1019.3 1622.8 1020.3 C1624.1 1021.3 1625.4 1022.4 1626.7 1023.4 C1628.0 1024.5 1629.3 1025.5 1630.6 1026.6 C1631.9 1027.7 1633.2 1028.7 1634.5 1029.8 C1635.7 1030.9 1637.0 1032.0 1638.3 1033.1 C1639.5 1034.2 1640.8 1035.3 1642.0 1036.4 C1643.3 1037.5 1644.5 1038.6 1645.7 1039.8 C1647.0 1040.9 1648.2 1042.0 1649.4 1043.2 C1650.6 1044.3 1651.8 1045.5 1653.0 1046.7 C1654.2 1047.8 1655.4 1049.0 1656.6 1050.2 C1657.7 1051.4 1658.9 1052.6 1660.1 1053.8 C1661.2 1055.0 1662.4 1056.2 1663.5 1057.4 C1664.7 1058.6 1665.8 1059.8 1666.9 1061.1 C1668.0 1062.3 1669.2 1063.5 1670.3 1064.8 C1671.4 1066.0 1672.5 1067.3 1673.5 1068.6 C1674.6 1069.8 1675.7 1071.1 1676.8 1072.4 C1677.8 1073.7 1678.9 1075.0 1679.9 1076.3 C1681.0 1077.6 1682.0 1078.9 1683.0 1080.2 C1684.0 1081.5 1685.0 1082.8 1686.0 1084.2 C1687.0 1085.5 1688.0 1086.9 1688.9 1088.2 C1689.9 1089.6 1690.8 1090.9 1691.8 1092.3 C1692.7 1093.7 1693.6 1095.1 1694.5 1096.5 C1695.4 1097.9 1696.3 1099.3 1697.2 1100.7 C1698.0 1102.1 1698.9 1103.5 1699.7 1105.0 C1700.5 1106.4 1701.3 1107.9 1702.1 1109.4 C1702.9 1110.8 1703.7 1112.3 1704.5 1113.8 C1705.2 1115.3 1705.9 1116.8 1706.6 1118.3 C1707.4 1119.8 1708.1 1121.3 1708.8 1122.8 C1709.5 1124.4 1710.2 1125.9 1710.9 1127.4 C1711.6 1128.9 1712.2 1130.4 1713.0 1131.9 C1713.7 1133.4 1714.4 1134.9 1715.1 1136.4 C1715.9 1137.9 1716.7 1139.4 1717.5 1140.8 C1718.3 1142.3 1719.1 1143.7 1719.9 1145.1 C1720.8 1146.5 1721.7 1147.9 1722.6 1149.3 C1723.5 1150.7 1724.4 1152.0 1725.4 1153.4 C1726.3 1154.7 1727.3 1156.0 1728.3 1157.4 C1729.3 1158.7 1730.3 1160.0 1731.4 1161.3 C1732.4 1162.6 1733.5 1163.8 1734.5 1165.1 C1735.6 1166.4 1736.7 1167.6 1737.8 1168.9 C1738.9 1170.1 1740.0 1171.4 1741.1 1172.6 C1742.2 1173.9 1743.4 1175.1 1744.5 1176.3 C1745.6 1177.5 1746.8 1178.8 1747.9 1180.0 C1749.1 1181.2 1750.2 1182.4 1751.4 1183.6 C1752.6 1184.8 1753.7 1186.0 1754.9 1187.2 C1756.1 1188.4 1757.3 1189.6 1758.4 1190.9 C1759.6 1192.1 1760.8 1193.3 1762.0 1194.5 C1763.1 1195.7 1764.3 1196.9 1765.5 1198.1 C1766.7 1199.3 1767.9 1200.5 1769.1 1201.6 C1770.3 1202.8 1771.5 1204.0 1772.7 1205.1 C1773.9 1206.3 1775.1 1207.4 1776.4 1208.6 C1777.6 1209.7 1778.8 1210.8 1780.1 1211.9 C1781.4 1213.0 1782.6 1214.1 1783.9 1215.1 C1785.2 1216.2 1786.5 1217.2 1787.8 1218.2 C1789.1 1219.2 1790.5 1220.2 1791.8 1221.1 C1793.2 1222.1 1794.5 1223.0 1795.9 1223.9 C1797.3 1224.8 1798.7 1225.6 1800.2 1226.5 C1801.6 1227.3 1803.0 1228.1 1804.5 1228.9 C1806.0 1229.6 1807.5 1230.4 1808.9 1231.1 C1810.4 1231.8 1812.0 1232.5 1813.5 1233.2 C1815.0 1233.9 1816.5 1234.5 1818.1 1235.1 C1819.6 1235.8 1821.2 1236.4 1822.8 1237.0 C1824.3 1237.6 1825.9 1238.1 1827.5 1238.7 C1829.1 1239.3 1830.6 1239.8 1832.2 1240.3 C1833.8 1240.9 1835.4 1241.4 1837.0 1241.9 C1838.6 1242.4 1840.2 1242.9 1841.8 1243.4 C1843.4 1243.9 1845.0 1244.4 1846.7 1244.9 C1848.3 1245.3 1849.9 1245.8 1851.5 1246.3 C1853.1 1246.7 1854.7 1247.2 1856.3 1247.6 C1857.9 1248.1 1859.6 1248.6 1861.2 1249.0 C1862.8 1249.5 1864.4 1249.9 1866.0 1250.4 C1867.6 1250.8 1869.2 1251.3 1870.8 1251.7 C1872.4 1252.2 1874.0 1252.6 1875.6 1253.1 C1877.3 1253.5 1878.9 1254.0 1880.4 1254.5 C1882.0 1255.0 1883.6 1255.4 1885.2 1255.9 C1886.8 1256.4 1888.4 1256.9 1890.0 1257.4 C1891.6 1257.9 1893.1 1258.4 1894.7 1259.0 C1896.3 1259.5 1897.8 1260.0 1899.4 1260.6 C1900.9 1261.1 1902.5 1261.7 1904.0 1262.3 C1905.6 1262.9 1907.1 1263.5 1908.6 1264.1 C1910.2 1264.7 1911.7 1265.3 1913.2 1266.0 C1914.7 1266.6 1916.2 1267.3 1917.7 1268.0 C1919.2 1268.7 1920.7 1269.4 1922.1 1270.2 C1923.6 1270.9 1925.1 1271.7 1926.5 1272.4 C1928.0 1273.2 1929.4 1274.1 1930.8 1274.9 C1932.3 1275.7 1933.7 1276.6 1935.1 1277.5 C1936.5 1278.4 1937.9 1279.3 1939.3 1280.2 C1940.7 1281.1 1942.0 1282.1 1943.4 1283.1 C1944.8 1284.0 1946.2 1285.0 1947.5 1286.0 C1948.9 1287.0 1950.3 1288.0 1951.6 1289.0 C1953.0 1290.0 1954.3 1291.0 1955.7 1292.0 C1957.0 1293.0 1958.4 1294.0 1959.8 1295.0 C1961.1 1296.0 1962.5 1297.1 1963.8 1298.1 C1965.2 1299.1 1966.6 1300.1 1967.9 1301.1 C1969.3 1302.0 1970.7 1303.0 1972.0 1304.0 C1973.4 1305.0 1974.8 1305.9 1976.2 1306.9 C1977.6 1307.8 1979.0 1308.7 1980.4 1309.6 C1981.8 1310.5 1983.3 1311.4 1984.7 1312.3 C1986.1 1313.1 1987.6 1313.9 1989.0 1314.7 C1990.5 1315.5 1992.0 1316.3 1993.5 1317.1 C1995.0 1317.8 1996.5 1318.5 1998.0 1319.2 C1999.5 1319.9 2001.0 1320.6 2002.5 1321.2 C2004.1 1321.9 2005.6 1322.5 2007.2 1323.2 C2008.7 1323.8 2010.2 1324.5 2011.8 1325.1 C2013.3 1325.7 2014.9 1326.4 2016.4 1327.0 C2017.9 1327.7 2019.5 1328.3 2021.0 1329.0 C2022.5 1329.7 2024.1 1330.4 2025.6 1331.1 C2027.1 1331.8 2029.3 1333.0 2030.1 1333.3"/>
<path stroke="#ffc20f" d="M272.0 161.1 C272.9 161.0 275.3 160.8 277.0 160.7 C278.7 160.5 280.3 160.4 282.0 160.3 C283.7 160.2 285.3 160.1 287.0 160.1 C288.7 160.0 290.3 159.9 292.0 159.9 C293.7 159.8 295.3 159.8 297.0 159.8 C298.7 159.7 300.3 159.7 302.0 159.7 C303.7 159.7 305.3 159.7 307.0 159.7 C308.6 159.8 310.3 159.8 312.0 159.8 C313.6 159.9 315.3 159.9 317.0 160.0 C318.6 160.1 320.3 160.1 322.0 160.2 C323.6 160.3 325.3 160.4 326.9 160.5 C328.6 160.6 330.3 160.7 331.9 160.9 C333.6 161.0 335.2 161.1 336.9 161.3 C338.6 161.4 340.2 161.6 341.9 161.7 C343.5 161.9 345.2 162.1 346.8 162.3 C348.5 162.4 350.2 162.6 351.8 162.8 C353.5 163.0 355.1 163.2 356.8 163.4 C358.4 163.7 360.1 163.9 361.7 164.1 C363.4 164.4 365.0 164.6 366.7 164.8 C368.3 165.1 370.0 165.3 371.6 165.6 C373.3 165.9 374.9 166.1 376.6 166.4 C378.2 166.7 379.9 167.0 381.5 167.3 C383.1 167.5 384.8 167.8 386.4 168.1 C388.1 168.5 389.7 168.8 391.4 169.1 C393.0 169.4 394.6 169.7 396.3 170.0 C397.9 170.4 399.5 170.7 401.2 171.0 C402.8 171.4 404.4 171.7 406.1 172.1 C407.7 172.4 409.3 172.8 411.0 173.1 C412.6 173.5 414.2 173.8 415.8 174.2 C417.5 174.6 419.1 175.0 420.7 175.3 C422.3 175.7 424.0 176.1 425.6 176.5 C427.2 176.9 428.8 177.3 430.4 177.7 C432.1 178.1 433.7 178.5 435.3 178.9 C436.9 179.4 438.5 179.8 440.1 180.2 C441.7 180.7 443.3 181.1 444.9 181.5 C446.6 182.0 448.2 182.4 449.8 182.9 C451.4 183.4 453.0 183.8 454.6 184.3 C456.2 184.8 457.8 185.3 459.4 185.8 C461.0 186.3 462.6 186.8 464.1 187.3 C465.7 187.8 467.3 188.3 468.9 188.8 C470.5 189.3 472.1 189.9 473.7 190.4 C475.3 190.9 476.8 191.5 478.4 192.0 C480.0 192.6 481.6 193.2 483.2 193.7 C484.7 194.3 486.3 194.9 487.9 195.5 C489.5 196.0 491.0 196.6 492.6 197.2 C494.2 197.8 495.8 198.4 497.3 199.0 C498.9 199.6 500.5 200.2 502.0 200.8 C503.6 201.4 505.2 202.0 506.7 202.6 C508.3 203.3 509.9 203.9 511.4 204.5 C513.0 205.1 514.6 205.7 516.1 206.3 C517.7 206.9 519.3 207.5 520.8 208.1 C522.4 208.7 524.0 209.3 525.6 209.8 C527.1 210.4 528.7 211.0 530.3 211.6 C531.8 212.2 533.4 212.7 535.0 213.3 C536.6 213.8 538.1 214.4 539.7 214.9 C541.3 215.5 542.9 216.0 544.5 216.5 C546.0 217.1 547.6 217.6 549.2 218.1 C550.8 218.6 552.4 219.1 554.0 219.5 C555.6 220.0 557.2 220.5 558.8 220.9 C560.4 221.4 562.0 221.8 563.6 222.2 C565.2 222.6 566.8 223.0 568.4 223.4 C570.0 223.8 571.6 224.2 573.2 224.6 C574.8 225.0 576.5 225.3 578.1 225.7 C579.7 226.0 581.3 226.4 582.9 226.7 C584.6 227.0 586.2 227.3 587.8 227.6 C589.4 228.0 591.1 228.2 592.7 228.5 C594.3 228.8 596.0 229.1 597.6 229.4 C599.2 229.6 600.9 229.9 602.5 230.1 C604.1 230.4 605.8 230.6 607.4 230.8 C609.1 231.1 610.7 231.3 612.4 231.5 C614.0 231.7 615.7 231.9 617.3 232.1 C619.0 232.3 620.6 232.5 622.3 232.7 C623.9 232.8 625.6 233.0 627.2 233.2 C628.9 233.3 630.5 233.5 632.2 233.6 C633.8 233.8 635.5 233.9 637.2 234.1 C638.8 234.2 640.5 234.3 642.1 234.5 C643.8 234.6 645.5 234.7 647.1 234.8 C648.8 234.9 650.4 235.0 652.1 235.1 C653.8 235.2 655.4 235.3 657.1 235.4 C658.8 235.5 660.4 235.6 662.1 235.7 C663.8 235.7 665.5 235.8 667.1 235.9 C668.8 236.0 670.5 236.0 672.1 236.1 C673.8 236.2 675.5 236.2 677.1 236.3 C678.8 236.3 680.5 236.4 682.2 236.4 C683.8 236.5 685.5 236.5 687.2 236.6 C688.9 236.6 690.5 236.7 692.2 236.7 C693.9 236.8 695.5 236.8 697.2 236.8 C698.9 236.9 700.6 236.9 702.2 237.0 C703.9 237.0 705.6 237.0 707.3 237.1 C708.9 237.1 710.6 237.1 712.3 237.2 C713.9 237.2 715.6 237.2 717.3 237.3 C719.0 237.3 720.6 237.3 722.3 237.4 C724.0 237.4 725.6 237.4 727.3 237.5 C729.0 237.5 730.7 237.5 732.3 237.6 C734.0 237.6 735.7 237.6 737.3 237.7 C739.0 237.7 740.7 237.7 742.3 237.8 C744.0 237.8 745.7 237.8 747.3 237.9 C749.0 237.9 750.7 237.9 752.4 238.0 C754.0 238.0 755.7 238.0 757.4 238.1 C759.0 238.1 760.7 238.1 762.4 238.2 C764.0 238.2 765.7 238.3 767.4 238.3 C769.0 238.3 770.7 238.4 772.4 238.4 C774.0 238.4 775.7 238.5 777.4 238.5 C779.0 238.5 780.7 238.6 782.3 238.6 C784.0 238.7 785.7 238.7 787.3 238.7 C789.0 238.8 790.7 238.8 792.3 238.9 C794.0 238.9 795.7 238.9 797.3 239.0 C799.0 239.0 800.7 239.1 802.3 239.1 C804.0 239.1 805.6 239.2 807.3 239.2 C809.0 239.3 810.6 239.3 812.3 239.4 C814.0 239.4 815.6 239.5 817.3 239.5 C819.0 239.5 820.6 239.6 822.3 239.6 C823.9 239.7 825.6 239.7 827.3 239.8 C828.9 239.8 830.6 239.9 832.3 239.9 C833.9 240.0 835.6 240.0 837.2 240.1 C838.9 240.1 840.6 240.2 842.2 240.2 C843.9 240.3 845.6 240.3 847.2 240.4 C848.9 240.5 850.5 240.5 852.2 240.6 C853.9 240.6 855.5 240.7 857.2 240.7 C858.9 240.8 860.5 240.9 862.2 240.9 C863.8 241.0 865.5 241.0 867.2 241.1 C868.8 241.2 870.5 241.2 872.2 241.3 C873.8 241.4 875.5 241.4 877.1 241.5 C878.8 241.6 880.5 241.6 882.1 241.7 C883.8 241.8 885.4 241.8 887.1 241.9 C888.8 242.0 890.4 242.0 892.1 242.1 C893.8 242.2 895.4 242.3 897.1 242.3 C898.8 242.4 900.4 242.5 902.1 242.6 C903.7 242.6 905.4 242.7 907.1 242.8 C908.7 242.9 910.4 243.0 912.1 243.0 C913.7 243.1 915.4 243.2 917.0 243.3 C918.7 243.4 920.4 243.5 922.0 243.6 C923.7 243.6 925.4 243.7 927.0 243.8 C928.7 243.9 930.4 244.0 932.0 244.1 C933.7 244.2 935.4 244.3 937.0 244.4 C938.7 244.5 940.3 244.6 942.0 244.7 C943.7 244.8 945.3 244.9 947.0 245.0 C948.7 245.1 950.3 245.2 952.0 245.3 C953.7 245.4 955.3 245.5 957.0 245.6 C958.7 245.7 960.3 245.8 962.0 245.9 C963.7 246.1 965.3 246.2 967.0 246.3 C968.7 246.4 970.3 246.5 972.0 246.6 C973.7 246.8 975.3 246.9 977.0 247.0 C978.7 247.1 980.4 247.2 982.0 247.4 C983.7 247.5 985.4 247.6 987.0 247.7 C988.7 247.9 990.4 248.0 992.0 248.1 C993.7 248.3 995.4 248.4 997.1 248.5 C998.7 248.7 1000.4 248.8 1002.1 249.0 C1003.7 249.1 1005.4 249.2 1007.1 249.4 C1008.8 249.5 1010.4 249.7 1012.1 249.8 C1013.8 250.0 1015.4 250.1 1017.1 250.3 C1018.8 250.4 1020.5 250.6 1022.1 250.8 C1023.8 250.9 1025.5 251.1 1027.1 251.3 C1028.8 251.5 1030.5 251.7 1032.1 251.8 C1033.8 252.0 1035.5 252.2 1037.1 252.4 C1038.8 252.6 1040.5 252.8 1042.1 253.1 C1043.8 253.3 1045.4 253.5 1047.1 253.7 C1048.8 254.0 1050.4 254.2 1052.1 254.5 C1053.7 254.7 1055.4 255.0 1057.0 255.2 C1058.7 255.5 1060.3 255.8 1062.0 256.1 C1063.6 256.4 1065.3 256.7 1066.9 257.0 C1068.5 257.3 1070.2 257.6 1071.8 257.9 C1073.5 258.3 1075.1 258.6 1076.7 259.0 C1078.3 259.3 1080.0 259.7 1081.6 260.1 C1083.2 260.5 1084.8 260.9 1086.5 261.3 C1088.1 261.7 1089.7 262.1 1091.3 262.5 C1092.9 263.0 1094.5 263.4 1096.1 263.9 C1097.7 264.4 1099.3 264.8 1100.9 265.3 C1102.5 265.8 1104.1 266.4 1105.7 266.9 C1107.3 267.4 1108.8 268.0 1110.4 268.5 C1112.0 269.1 1113.6 269.6 1115.1 270.2 C1116.7 270.8 1118.2 271.4 1119.8 272.1 C1121.3 272.7 1122.9 273.3 1124.4 274.0 C1125.9 274.6 1127.5 275.3 1129.0 276.0 C1130.5 276.7 1132.0 277.4 1133.5 278.1 C1135.0 278.9 1136.5 279.6 1137.9 280.4 C1139.4 281.1 1140.9 281.9 1142.3 282.7 C1143.8 283.5 1145.2 284.3 1146.7 285.1 C1148.1 286.0 1149.5 286.8 1150.9 287.7 C1152.3 288.5 1153.7 289.4 1155.1 290.3 C1156.5 291.2 1157.8 292.1 1159.2 293.1 C1160.6 294.0 1161.9 295.0 1163.2 295.9 C1164.5 296.9 1165.8 297.9 1167.1 298.9 C1168.4 299.9 1169.7 301.0 1171.0 302.0 C1172.2 303.1 1173.5 304.2 1174.7 305.2 C1175.9 306.3 1177.1 307.4 1178.3 308.6 C1179.5 309.7 1180.7 310.8 1181.9 312.0 C1183.0 313.2 1184.2 314.4 1185.3 315.5 C1186.4 316.7 1187.5 318.0 1188.6 319.2 C1189.7 320.4 1190.8 321.7 1191.9 322.9 C1192.9 324.2 1194.0 325.5 1195.0 326.8 C1196.1 328.1 1197.1 329.4 1198.1 330.7 C1199.1 332.0 1200.1 333.3 1201.1 334.7 C1202.1 336.0 1203.1 337.4 1204.0 338.7 C1205.0 340.1 1205.9 341.5 1206.9 342.9 C1207.8 344.3 1208.7 345.7 1209.6 347.1 C1210.6 348.5 1211.5 349.9 1212.4 351.3 C1213.2 352.8 1214.1 354.2 1215.0 355.6 C1215.9 357.1 1216.7 358.5 1217.6 360.0 C1218.4 361.4 1219.3 362.9 1220.1 364.4 C1221.0 365.9 1221.8 367.3 1222.6 368.8 C1223.4 370.3 1224.2 371.8 1225.1 373.3 C1225.9 374.8 1226.7 376.3 1227.4 377.8 C1228.2 379.3 1229.0 380.8 1229.8 382.3 C1230.6 383.8 1231.3 385.3 1232.1 386.8 C1232.9 388.3 1233.6 389.8 1234.4 391.3 C1235.1 392.8 1235.9 394.4 1236.6 395.9 C1237.4 397.4 1238.1 398.9 1238.9 400.4 C1239.6 401.9 1240.3 403.5 1241.0 405.0 C1241.8 406.5 1242.5 408.0 1243.2 409.5 C1243.9 411.0 1244.6 412.6 1245.3 414.1 C1246.0 415.6 1246.7 417.1 1247.4 418.7 C1248.1 420.2 1248.8 421.7 1249.5 423.2 C1250.2 424.8 1250.9 426.3 1251.6 427.8 C1252.2 429.3 1252.9 430.9 1253.6 432.4 C1254.3 433.9 1254.9 435.4 1255.6 437.0 C1256.2 438.5 1256.9 440.0 1257.6 441.6 C1258.2 443.1 1258.9 444.6 1259.5 446.2 C1260.2 447.7 1260.8 449.2 1261.5 450.8 C1262.1 452.3 1262.7 453.9 1263.4 455.4 C1264.0 456.9 1264.6 458.5 1265.3 460.0 C1265.9 461.6 1266.5 463.1 1267.1 464.6 C1267.7 466.2 1268.4 467.7 1269.0 469.3 C1269.6 470.8 1270.2 472.4 1270.8 473.9 C1271.4 475.4 1272.0 477.0 1272.6 478.5 C1273.2 480.1 1273.8 481.6 1274.4 483.2 C1275.0 484.7 1275.6 486.3 1276.2 487.8 C1276.8 489.4 1277.4 490.9 1278.0 492.5 C1278.6 494.0 1279.2 495.6 1279.8 497.2 C1280.3 498.7 1280.9 500.3 1281.5 501.8 C1282.1 503.4 1282.7 504.9 1283.2 506.5 C1283.8 508.1 1284.4 509.6 1285.0 511.2 C1285.5 512.7 1286.1 514.3 1286.7 515.9 C1287.2 517.4 1287.8 519.0 1288.4 520.6 C1288.9 522.1 1289.5 523.7 1290.1 525.2 C1290.6 526.8 1291.2 528.4 1291.7 529.9 C1292.3 531.5 1292.8 533.1 1293.4 534.6 C1294.0 536.2 1294.5 537.8 1295.1 539.4 C1295.6 540.9 1296.2 542.5 1296.7 544.1 C1297.3 545.6 1297.8 547.2 1298.4 548.8 C1298.9 550.4 1299.5 551.9 1300.0 553.5 C1300.5 555.1 1301.1 556.7 1301.6 558.2 C1302.2 559.8 1302.7 561.4 1303.2 563.0 C1303.8 564.5 1304.3 566.1 1304.9 567.7 C1305.4 569.3 1305.9 570.8 1306.5 572.4 C1307.0 574.0 1307.6 575.6 1308.1 577.2 C1308.6 578.7 1309.2 580.3 1309.7 581.9 C1310.2 583.5 1310.8 585.0 1311.3 586.6 C1311.8 588.2 1312.3 589.8 1312.9 591.4 C1313.4 593.0 1313.9 594.5 1314.5 596.1 C1315.0 597.7 1315.5 599.3 1316.1 600.9 C1316.6 602.4 1317.1 604.0 1317.6 605.6 C1318.2 607.2 1318.7 608.8 1319.2 610.4 C1319.8 611.9 1320.3 613.5 1320.8 615.1 C1321.3 616.7 1321.9 618.3 1322.4 619.9 C1322.9 621.4 1323.5 623.0 1324.0 624.6 C1324.5 626.2 1325.0 627.8 1325.6 629.4 C1326.1 630.9 1326.6 632.5 1327.1 634.1 C1327.7 635.7 1328.2 637.3 1328.7 638.9 C1329.3 640.4 1329.8 642.0 1330.3 643.6 C1330.8 645.2 1331.4 646.8 1331.9 648.4 C1332.4 649.9 1333.0 651.5 1333.5 653.1 C1334.0 654.7 1334.6 656.3 1335.1 657.9 C1335.6 659.4 1336.2 661.0 1336.7 662.6 C1337.2 664.2 1337.8 665.8 1338.3 667.3 C1338.8 668.9 1339.4 670.5 1339.9 672.1 C1340.4 673.7 1341.0 675.3 1341.5 676.8 C1342.0 678.4 1342.6 680.0 1343.1 681.6 C1343.7 683.2 1344.2 684.7 1344.7 686.3 C1345.3 687.9 1345.8 689.5 1346.4 691.1 C1346.9 692.6 1347.5 694.2 1348.0 695.8 C1348.5 697.4 1349.1 698.9 1349.6 700.5 C1350.2 702.1 1350.7 703.7 1351.3 705.2 C1351.8 706.8 1352.4 708.4 1353.0 710.0 C1353.5 711.6 1354.1 713.1 1354.6 714.7 C1355.2 716.3 1355.7 717.8 1356.3 719.4 C1356.9 721.0 1357.4 722.6 1358.0 724.1 C1358.5 725.7 1359.1 727.3 1359.7 728.8 C1360.2 730.4 1360.8 732.0 1361.4 733.6 C1362.0 735.1 1362.5 736.7 1363.1 738.3 C1363.7 739.8 1364.2 741.4 1364.8 743.0 C1365.4 744.5 1366.0 746.1 1366.6 747.7 C1367.2 749.2 1367.7 750.8 1368.3 752.3 C1368.9 753.9 1369.5 755.5 1370.1 757.0 C1370.7 758.6 1371.3 760.1 1371.9 761.7 C1372.5 763.3 1373.1 764.8 1373.7 766.4 C1374.3 767.9 1374.9 769.5 1375.5 771.0 C1376.1 772.6 1376.7 774.2 1377.3 775.7 C1377.9 777.3 1378.5 778.8 1379.1 780.4 C1379.7 781.9 1380.4 783.5 1381.0 785.0 C1381.6 786.6 1382.2 788.1 1382.9 789.7 C1383.5 791.2 1384.1 792.7 1384.7 794.3 C1385.4 795.8 1386.0 797.4 1386.6 798.9 C1387.3 800.5 1387.9 802.0 1388.6 803.5 C1389.2 805.1 1389.9 806.6 1390.5 808.2 C1391.2 809.7 1391.8 811.2 1392.5 812.8 C1393.1 814.3 1393.8 815.8 1394.5 817.4 C1395.1 818.9 1395.8 820.4 1396.5 821.9 C1397.1 823.5 1397.8 825.0 1398.5 826.5 C1399.2 828.0 1399.9 829.5 1400.6 831.0 C1401.3 832.6 1402.0 834.1 1402.7 835.6 C1403.4 837.1 1404.2 838.6 1404.9 840.1 C1405.6 841.6 1406.3 843.0 1407.1 844.5 C1407.8 846.0 1408.6 847.5 1409.4 849.0 C1410.1 850.4 1410.9 851.9 1411.7 853.4 C1412.4 854.8 1413.2 856.3 1414.0 857.8 C1414.8 859.2 1415.6 860.7 1416.5 862.1 C1417.3 863.5 1418.1 865.0 1419.0 866.4 C1419.8 867.8 1420.7 869.2 1421.5 870.6 C1422.4 872.1 1423.3 873.5 1424.2 874.9 C1425.1 876.3 1426.0 877.6 1426.9 879.0 C1427.8 880.4 1428.7 881.8 1429.7 883.1 C1430.6 884.5 1431.6 885.9 1432.5 887.2 C1433.5 888.6 1434.5 889.9 1435.4 891.2 C1436.4 892.6 1437.4 893.9 1438.4 895.2 C1439.4 896.6 1440.5 897.9 1441.5 899.2 C1442.5 900.5 1443.6 901.8 1444.6 903.1 C1445.7 904.4 1446.7 905.7 1447.8 906.9 C1448.8 908.2 1449.9 909.5 1451.0 910.8 C1452.1 912.0 1453.2 913.3 1454.3 914.5 C1455.4 915.8 1456.5 917.0 1457.6 918.3 C1458.7 919.5 1459.8 920.8 1461.0 922.0 C1462.1 923.2 1463.3 924.4 1464.4 925.7 C1465.5 926.9 1466.7 928.1 1467.9 929.3 C1469.0 930.5 1470.2 931.7 1471.4 932.9 C1472.5 934.1 1473.7 935.3 1474.9 936.4 C1476.1 937.6 1477.3 938.8 1478.4 940.0 C1479.6 941.2 1480.8 942.3 1482.0 943.5 C1483.2 944.6 1484.4 945.8 1485.7 947.0 C1486.9 948.1 1488.1 949.3 1489.3 950.4 C1490.5 951.5 1491.8 952.7 1493.0 953.8 C1494.2 954.9 1495.4 956.1 1496.7 957.2 C1497.9 958.3 1499.2 959.4 1500.4 960.5 C1501.7 961.6 1502.9 962.7 1504.2 963.9 C1505.4 965.0 1506.7 966.0 1507.9 967.1 C1509.2 968.2 1510.5 969.3 1511.7 970.4 C1513.0 971.5 1514.3 972.6 1515.6 973.6 C1516.9 974.7 1518.1 975.8 1519.4 976.8 C1520.7 977.9 1522.0 978.9 1523.3 980.0 C1524.6 981.0 1525.9 982.1 1527.2 983.1 C1528.5 984.2 1529.8 985.2 1531.2 986.2 C1532.5 987.3 1533.8 988.3 1535.1 989.3 C1536.4 990.3 1537.8 991.3 1539.1 992.4 C1540.4 993.4 1541.8 994.4 1543.1 995.4 C1544.5 996.4 1545.8 997.4 1547.2 998.4 C1548.5 999.4 1549.9 1000.3 1551.2 1001.3 C1552.6 1002.3 1553.9 1003.3 1555.3 1004.2 C1556.7 1005.2 1558.0 1006.2 1559.4 1007.2 C1560.8 1008.1 1562.2 1009.1 1563.5 1010.0 C1564.9 1011.0 1566.3 1011.9 1567.7 1012.9 C1569.1 1013.8 1570.5 1014.8 1571.9 1015.7 C1573.2 1016.7 1574.6 1017.6 1576.0 1018.6 C1577.4 1019.5 1578.8 1020.4 1580.2 1021.4 C1581.6 1022.3 1583.0 1023.2 1584.4 1024.2 C1585.8 1025.1 1587.2 1026.0 1588.6 1027.0 C1590.0 1027.9 1591.4 1028.8 1592.8 1029.8 C1594.2 1030.7 1595.6 1031.6 1597.0 1032.5 C1598.4 1033.5 1599.8 1034.4 1601.2 1035.3 C1602.6 1036.3 1604.0 1037.2 1605.4 1038.1 C1606.8 1039.1 1608.2 1040.0 1609.6 1040.9 C1611.0 1041.9 1612.4 1042.8 1613.8 1043.8 C1615.2 1044.7 1616.6 1045.7 1617.9 1046.6 C1619.3 1047.6 1620.7 1048.5 1622.0 1049.5 C1623.4 1050.5 1624.8 1051.4 1626.1 1052.4 C1627.5 1053.4 1628.8 1054.4 1630.2 1055.4 C1631.5 1056.3 1632.8 1057.3 1634.1 1058.3 C1635.5 1059.4 1636.8 1060.4 1638.1 1061.4 C1639.4 1062.4 1640.6 1063.5 1641.9 1064.5 C1643.2 1065.6 1644.5 1066.6 1645.7 1067.7 C1647.0 1068.8 1648.2 1069.8 1649.4 1070.9 C1650.6 1072.0 1651.9 1073.1 1653.0 1074.3 C1654.2 1075.4 1655.4 1076.5 1656.6 1077.7 C1657.7 1078.8 1658.9 1080.0 1660.0 1081.2 C1661.2 1082.3 1662.3 1083.5 1663.4 1084.7 C1664.5 1085.9 1665.6 1087.1 1666.7 1088.4 C1667.8 1089.6 1668.9 1090.8 1669.9 1092.1 C1671.0 1093.3 1672.0 1094.6 1673.1 1095.8 C1674.1 1097.1 1675.2 1098.4 1676.2 1099.6 C1677.2 1100.9 1678.2 1102.2 1679.2 1103.5 C1680.2 1104.8 1681.2 1106.1 1682.2 1107.4 C1683.2 1108.7 1684.2 1110.1 1685.2 1111.4 C1686.2 1112.7 1687.2 1114.1 1688.1 1115.4 C1689.1 1116.7 1690.1 1118.1 1691.0 1119.4 C1692.0 1120.8 1693.0 1122.1 1693.9 1123.5 C1694.9 1124.8 1695.8 1126.2 1696.8 1127.6 C1697.7 1128.9 1698.7 1130.3 1699.6 1131.7 C1700.6 1133.0 1701.5 1134.4 1702.5 1135.8 C1703.4 1137.2 1704.4 1138.5 1705.3 1139.9 C1706.3 1141.3 1707.3 1142.7 1708.2 1144.0 C1709.2 1145.4 1710.1 1146.8 1711.1 1148.2 C1712.0 1149.6 1713.0 1150.9 1714.0 1152.3 C1714.9 1153.7 1715.9 1155.0 1716.9 1156.4 C1717.9 1157.8 1718.8 1159.2 1719.8 1160.5 C1720.8 1161.9 1721.8 1163.2 1722.8 1164.6 C1723.8 1166.0 1724.8 1167.3 1725.9 1168.7 C1726.9 1170.0 1727.9 1171.3 1728.9 1172.7 C1730.0 1174.0 1731.0 1175.4 1732.1 1176.7 C1733.1 1178.0 1734.2 1179.3 1735.2 1180.6 C1736.3 1181.9 1737.4 1183.3 1738.5 1184.5 C1739.5 1185.8 1740.6 1187.1 1741.7 1188.4 C1742.8 1189.7 1744.0 1191.0 1745.1 1192.2 C1746.2 1193.5 1747.3 1194.7 1748.5 1196.0 C1749.6 1197.2 1750.7 1198.5 1751.9 1199.7 C1753.1 1200.9 1754.2 1202.1 1755.4 1203.3 C1756.6 1204.5 1757.8 1205.7 1759.0 1206.9 C1760.2 1208.1 1761.4 1209.2 1762.6 1210.4 C1763.8 1211.5 1765.0 1212.7 1766.2 1213.8 C1767.5 1214.9 1768.7 1216.0 1770.0 1217.1 C1771.2 1218.2 1772.5 1219.3 1773.7 1220.4 C1775.0 1221.4 1776.3 1222.5 1777.6 1223.5 C1778.9 1224.5 1780.2 1225.6 1781.5 1226.6 C1782.8 1227.6 1784.1 1228.5 1785.5 1229.5 C1786.8 1230.5 1788.1 1231.4 1789.5 1232.4 C1790.9 1233.3 1792.2 1234.2 1793.6 1235.1 C1795.0 1236.0 1796.3 1236.9 1797.7 1237.7 C1799.1 1238.6 1800.5 1239.4 1802.0 1240.2 C1803.4 1241.0 1804.8 1241.8 1806.2 1242.6 C1807.7 1243.4 1809.1 1244.1 1810.6 1244.9 C1812.1 1245.6 1813.5 1246.3 1815.0 1247.0 C1816.5 1247.7 1818.0 1248.4 1819.5 1249.1 C1821.0 1249.7 1822.5 1250.4 1824.0 1251.0 C1825.5 1251.6 1827.0 1252.2 1828.5 1252.8 C1830.1 1253.4 1831.6 1254.0 1833.1 1254.6 C1834.7 1255.2 1836.2 1255.7 1837.8 1256.3 C1839.4 1256.8 1840.9 1257.3 1842.5 1257.9 C1844.1 1258.4 1845.7 1258.9 1847.2 1259.4 C1848.8 1259.9 1850.4 1260.4 1852.0 1260.8 C1853.6 1261.3 1855.2 1261.8 1856.8 1262.2 C1858.4 1262.7 1860.0 1263.1 1861.6 1263.5 C1863.3 1264.0 1864.9 1264.4 1866.5 1264.8 C1868.1 1265.2 1869.8 1265.6 1871.4 1266.0 C1873.0 1266.4 1874.7 1266.8 1876.3 1267.2 C1877.9 1267.6 1879.6 1268.0 1881.2 1268.4 C1882.9 1268.8 1884.5 1269.1 1886.2 1269.5 C1887.8 1269.9 1889.4 1270.2 1891.1 1270.6 C1892.8 1271.0 1894.4 1271.3 1896.1 1271.7 C1897.7 1272.0 1899.4 1272.4 1901.0 1272.8 C1902.7 1273.1 1904.3 1273.5 1906.0 1273.8 C1907.6 1274.2 1909.3 1274.5 1911.0 1274.9 C1912.6 1275.2 1914.3 1275.6 1915.9 1275.9 C1917.6 1276.3 1919.2 1276.6 1920.9 1277.0 C1922.5 1277.4 1924.2 1277.7 1925.8 1278.1 C1927.5 1278.4 1929.1 1278.8 1930.8 1279.2 C1932.4 1279.5 1934.1 1279.9 1935.7 1280.3 C1937.3 1280.7 1939.0 1281.1 1940.6 1281.5 C1942.2 1281.9 1943.9 1282.2 1945.5 1282.7 C1947.1 1283.1 1948.7 1283.5 1950.4 1283.9 C1952.0 1284.3 1953.6 1284.7 1955.2 1285.2 C1956.8 1285.6 1958.4 1286.0 1960.0 1286.5 C1961.6 1286.9 1963.2 1287.4 1964.8 1287.9 C1966.4 1288.3 1968.0 1288.8 1969.6 1289.3 C1971.1 1289.8 1972.7 1290.3 1974.3 1290.8 C1975.9 1291.3 1977.4 1291.8 1979.0 1292.4 C1980.6 1292.9 1982.1 1293.4 1983.7 1294.0 C1985.2 1294.5 1986.8 1295.0 1988.4 1295.6 C1989.9 1296.2 1991.5 1296.7 1993.0 1297.3 C1994.5 1297.9 1996.1 1298.5 1997.6 1299.1 C1999.2 1299.7 2000.7 1300.3 2002.2 1300.9 C2003.8 1301.5 2005.3 1302.2 2006.8 1302.8 C2008.4 1303.4 2009.9 1304.1 2011.4 1304.7 C2013.0 1305.4 2014.5 1306.1 2016.0 1306.8 C2017.5 1307.4 2019.0 1308.1 2020.6 1308.8 C2022.1 1309.5 2023.6 1310.2 2025.1 1311.0 C2026.6 1311.7 2028.9 1312.8 2029.7 1313.1"/>
<path stroke="#3bc46d" d="M290.0 155.2 C290.8 154.9 293.2 153.8 294.8 153.1 C296.4 152.5 298.0 151.9 299.6 151.3 C301.2 150.8 302.8 150.3 304.4 149.9 C306.1 149.4 307.7 149.1 309.3 148.7 C310.9 148.4 312.6 148.1 314.2 147.8 C315.9 147.5 317.5 147.3 319.1 147.1 C320.8 146.9 322.4 146.8 324.1 146.7 C325.7 146.6 327.4 146.5 329.0 146.4 C330.7 146.4 332.3 146.3 334.0 146.3 C335.7 146.3 337.3 146.3 339.0 146.4 C340.6 146.4 342.3 146.5 344.0 146.5 C345.6 146.6 347.3 146.7 349.0 146.8 C350.6 146.9 352.3 147.0 354.0 147.1 C355.6 147.2 357.3 147.3 359.0 147.5 C360.7 147.6 362.3 147.7 364.0 147.8 C365.7 148.0 367.3 148.1 369.0 148.2 C370.7 148.3 372.3 148.4 374.0 148.6 C375.7 148.7 377.3 148.8 379.0 148.9 C380.7 149.1 382.3 149.2 384.0 149.3 C385.7 149.4 387.4 149.6 389.0 149.7 C390.7 149.8 392.3 150.0 394.0 150.1 C395.7 150.3 397.3 150.4 399.0 150.6 C400.7 150.7 402.3 150.9 404.0 151.1 C405.6 151.2 407.3 151.4 409.0 151.6 C410.6 151.8 412.3 152.0 413.9 152.2 C415.6 152.4 417.2 152.6 418.9 152.8 C420.5 153.0 422.2 153.3 423.8 153.5 C425.5 153.7 427.1 154.0 428.8 154.3 C430.4 154.5 432.1 154.8 433.7 155.1 C435.3 155.4 437.0 155.7 438.6 156.0 C440.2 156.3 441.9 156.6 443.5 156.9 C445.2 157.2 446.8 157.5 448.4 157.9 C450.0 158.2 451.7 158.6 453.3 158.9 C454.9 159.3 456.6 159.6 458.2 160.0 C459.8 160.4 461.4 160.7 463.1 161.1 C464.7 161.5 466.3 161.9 467.9 162.3 C469.6 162.7 471.2 163.1 472.8 163.5 C474.4 163.9 476.0 164.3 477.6 164.8 C479.3 165.2 480.9 165.6 482.5 166.0 C484.1 166.5 485.7 166.9 487.3 167.4 C488.9 167.8 490.6 168.2 492.2 168.7 C493.8 169.2 495.4 169.6 497.0 170.1 C498.6 170.5 500.2 171.0 501.8 171.5 C503.4 171.9 505.0 172.4 506.6 172.9 C508.2 173.4 509.8 173.9 511.4 174.3 C513.1 174.8 514.7 175.3 516.3 175.8 C517.9 176.3 519.5 176.8 521.1 177.3 C522.7 177.8 524.3 178.3 525.9 178.8 C527.5 179.3 529.1 179.8 530.7 180.3 C532.3 180.8 533.9 181.3 535.5 181.8 C537.1 182.3 538.6 182.8 540.2 183.3 C541.8 183.8 543.4 184.3 545.0 184.8 C546.6 185.3 548.2 185.8 549.8 186.3 C551.4 186.8 553.0 187.3 554.6 187.8 C556.2 188.3 557.8 188.8 559.4 189.3 C561.0 189.8 562.6 190.3 564.2 190.8 C565.8 191.3 567.4 191.8 569.0 192.2 C570.6 192.7 572.1 193.2 573.7 193.7 C575.3 194.2 576.9 194.7 578.5 195.2 C580.1 195.6 581.7 196.1 583.3 196.6 C584.9 197.0 586.5 197.5 588.1 198.0 C589.7 198.4 591.3 198.9 592.9 199.3 C594.5 199.8 596.1 200.2 597.7 200.7 C599.3 201.1 600.9 201.5 602.5 202.0 C604.1 202.4 605.7 202.8 607.3 203.2 C609.0 203.6 610.6 204.0 612.2 204.4 C613.8 204.8 615.4 205.2 617.0 205.6 C618.6 206.0 620.2 206.3 621.8 206.7 C623.5 207.1 625.1 207.4 626.7 207.8 C628.3 208.1 629.9 208.5 631.6 208.8 C633.2 209.1 634.8 209.4 636.4 209.7 C638.1 210.0 639.7 210.3 641.3 210.6 C643.0 210.9 644.6 211.2 646.2 211.4 C647.9 211.7 649.5 212.0 651.2 212.2 C652.8 212.4 654.4 212.7 656.1 212.9 C657.7 213.1 659.4 213.3 661.0 213.5 C662.7 213.7 664.3 213.9 666.0 214.0 C667.7 214.2 669.3 214.4 671.0 214.5 C672.6 214.7 674.3 214.8 676.0 214.9 C677.6 215.1 679.3 215.2 681.0 215.3 C682.6 215.4 684.3 215.5 686.0 215.6 C687.6 215.7 689.3 215.8 691.0 215.9 C692.7 216.0 694.3 216.1 696.0 216.1 C697.7 216.2 699.4 216.3 701.0 216.3 C702.7 216.4 704.4 216.4 706.1 216.4 C707.8 216.5 709.5 216.5 711.1 216.5 C712.8 216.6 714.5 216.6 716.2 216.6 C717.9 216.6 719.6 216.6 721.2 216.6 C722.9 216.7 724.6 216.7 726.3 216.7 C728.0 216.6 729.7 216.6 731.4 216.6 C733.1 216.6 734.7 216.6 736.4 216.6 C738.1 216.6 739.8 216.6 741.5 216.5 C743.2 216.5 744.9 216.5 746.6 216.5 C748.3 216.4 750.0 216.4 751.6 216.4 C753.3 216.3 755.0 216.3 756.7 216.3 C758.4 216.2 760.1 216.2 761.8 216.2 C763.5 216.1 765.1 216.1 766.8 216.1 C768.5 216.0 770.2 216.0 771.9 216.0 C773.6 215.9 775.3 215.9 776.9 215.8 C778.6 215.8 780.3 215.8 782.0 215.7 C783.7 215.7 785.4 215.7 787.0 215.7 C788.7 215.6 790.4 215.6 792.1 215.6 C793.8 215.6 795.4 215.5 797.1 215.5 C798.8 215.5 800.5 215.5 802.1 215.5 C803.8 215.4 805.5 215.4 807.1 215.4 C808.8 215.4 810.5 215.4 812.1 215.4 C813.8 215.4 815.5 215.4 817.1 215.4 C818.8 215.4 820.5 215.4 822.1 215.4 C823.8 215.4 825.5 215.4 827.1 215.4 C828.8 215.4 830.5 215.4 832.1 215.5 C833.8 215.5 835.4 215.5 837.1 215.5 C838.8 215.5 840.4 215.6 842.1 215.6 C843.7 215.6 845.4 215.6 847.0 215.7 C848.7 215.7 850.4 215.7 852.0 215.7 C853.7 215.8 855.3 215.8 857.0 215.8 C858.6 215.9 860.3 215.9 861.9 216.0 C863.6 216.0 865.2 216.1 866.9 216.1 C868.5 216.1 870.2 216.2 871.9 216.2 C873.5 216.3 875.2 216.3 876.8 216.4 C878.5 216.5 880.1 216.5 881.8 216.6 C883.4 216.6 885.1 216.7 886.7 216.8 C888.4 216.8 890.0 216.9 891.7 217.0 C893.3 217.0 895.0 217.1 896.6 217.2 C898.3 217.2 899.9 217.3 901.6 217.4 C903.2 217.5 904.9 217.5 906.5 217.6 C908.2 217.7 909.8 217.8 911.5 217.9 C913.1 217.9 914.8 218.0 916.4 218.1 C918.1 218.2 919.7 218.3 921.4 218.4 C923.0 218.5 924.7 218.6 926.3 218.7 C928.0 218.8 929.6 218.9 931.3 219.0 C932.9 219.1 934.6 219.2 936.2 219.3 C937.9 219.4 939.5 219.5 941.2 219.6 C942.8 219.7 944.5 219.8 946.2 219.9 C947.8 220.0 949.5 220.1 951.1 220.3 C952.8 220.4 954.4 220.5 956.1 220.6 C957.8 220.7 959.4 220.8 961.1 221.0 C962.7 221.1 964.4 221.2 966.1 221.3 C967.7 221.5 969.4 221.6 971.0 221.7 C972.7 221.8 974.4 222.0 976.0 222.1 C977.7 222.2 979.4 222.4 981.0 222.5 C982.7 222.7 984.4 222.8 986.0 222.9 C987.7 223.1 989.4 223.2 991.0 223.4 C992.7 223.5 994.4 223.6 996.0 223.8 C997.7 223.9 999.4 224.1 1001.1 224.2 C1002.7 224.4 1004.4 224.5 1006.1 224.7 C1007.8 224.8 1009.5 225.0 1011.1 225.1 C1012.8 225.3 1014.5 225.5 1016.2 225.6 C1017.9 225.8 1019.5 225.9 1021.2 226.1 C1022.9 226.3 1024.6 226.4 1026.3 226.6 C1028.0 226.8 1029.7 226.9 1031.4 227.1 C1033.1 227.3 1034.7 227.4 1036.4 227.6 C1038.1 227.8 1039.8 228.0 1041.5 228.1 C1043.2 228.3 1044.9 228.5 1046.6 228.7 C1048.3 228.8 1050.0 229.0 1051.7 229.2 C1053.4 229.4 1055.1 229.6 1056.8 229.8 C1058.5 230.0 1060.2 230.2 1061.9 230.4 C1063.6 230.6 1065.3 230.8 1067.0 231.0 C1068.7 231.2 1070.4 231.5 1072.1 231.7 C1073.8 231.9 1075.5 232.2 1077.2 232.4 C1078.9 232.7 1080.5 232.9 1082.2 233.2 C1083.9 233.5 1085.6 233.7 1087.2 234.0 C1088.9 234.3 1090.6 234.6 1092.2 234.9 C1093.9 235.2 1095.5 235.6 1097.2 235.9 C1098.8 236.3 1100.5 236.6 1102.1 237.0 C1103.7 237.3 1105.4 237.7 1107.0 238.1 C1108.6 238.5 1110.2 238.9 1111.8 239.3 C1113.4 239.8 1115.0 240.2 1116.6 240.7 C1118.2 241.1 1119.8 241.6 1121.3 242.1 C1122.9 242.6 1124.4 243.1 1126.0 243.6 C1127.5 244.2 1129.1 244.7 1130.6 245.3 C1132.1 245.9 1133.6 246.5 1135.1 247.1 C1136.6 247.7 1138.1 248.3 1139.6 249.0 C1141.1 249.6 1142.6 250.3 1144.0 251.0 C1145.5 251.7 1146.9 252.5 1148.3 253.2 C1149.8 254.0 1151.2 254.7 1152.6 255.5 C1154.0 256.3 1155.3 257.2 1156.7 258.0 C1158.1 258.9 1159.4 259.7 1160.8 260.6 C1162.1 261.6 1163.4 262.5 1164.7 263.4 C1166.1 264.4 1167.3 265.4 1168.6 266.4 C1169.9 267.4 1171.2 268.4 1172.4 269.4 C1173.7 270.5 1174.9 271.5 1176.2 272.6 C1177.4 273.7 1178.6 274.8 1179.8 275.9 C1181.0 277.0 1182.2 278.2 1183.4 279.3 C1184.5 280.5 1185.7 281.7 1186.8 282.9 C1188.0 284.1 1189.1 285.3 1190.3 286.5 C1191.4 287.8 1192.5 289.0 1193.6 290.3 C1194.7 291.5 1195.8 292.8 1196.9 294.1 C1198.0 295.4 1199.0 296.7 1200.1 298.0 C1201.1 299.3 1202.2 300.7 1203.2 302.0 C1204.3 303.3 1205.3 304.7 1206.3 306.1 C1207.3 307.4 1208.3 308.8 1209.3 310.2 C1210.3 311.6 1211.3 313.0 1212.3 314.4 C1213.2 315.8 1214.2 317.2 1215.2 318.6 C1216.1 320.0 1217.1 321.5 1218.0 322.9 C1218.9 324.3 1219.9 325.8 1220.8 327.2 C1221.7 328.7 1222.6 330.1 1223.5 331.6 C1224.4 333.0 1225.3 334.5 1226.2 336.0 C1227.1 337.4 1228.0 338.9 1228.8 340.4 C1229.7 341.8 1230.6 343.3 1231.4 344.8 C1232.3 346.3 1233.1 347.7 1234.0 349.2 C1234.8 350.7 1235.7 352.2 1236.5 353.6 C1237.3 355.1 1238.1 356.6 1239.0 358.1 C1239.8 359.6 1240.6 361.0 1241.4 362.5 C1242.2 364.0 1243.0 365.5 1243.8 367.0 C1244.6 368.4 1245.4 369.9 1246.1 371.4 C1246.9 372.9 1247.7 374.4 1248.4 375.9 C1249.2 377.4 1250.0 378.8 1250.7 380.3 C1251.5 381.8 1252.2 383.3 1253.0 384.8 C1253.7 386.3 1254.5 387.8 1255.2 389.3 C1255.9 390.8 1256.6 392.3 1257.4 393.8 C1258.1 395.3 1258.8 396.7 1259.5 398.2 C1260.2 399.7 1260.9 401.2 1261.7 402.7 C1262.4 404.2 1263.1 405.7 1263.7 407.2 C1264.4 408.7 1265.1 410.2 1265.8 411.8 C1266.5 413.3 1267.2 414.8 1267.9 416.3 C1268.5 417.8 1269.2 419.3 1269.9 420.8 C1270.6 422.3 1271.2 423.8 1271.9 425.3 C1272.5 426.8 1273.2 428.3 1273.9 429.9 C1274.5 431.4 1275.2 432.9 1275.8 434.4 C1276.5 435.9 1277.1 437.4 1277.8 439.0 C1278.4 440.5 1279.0 442.0 1279.7 443.5 C1280.3 445.0 1280.9 446.6 1281.6 448.1 C1282.2 449.6 1282.8 451.1 1283.5 452.7 C1284.1 454.2 1284.7 455.7 1285.3 457.2 C1286.0 458.8 1286.6 460.3 1287.2 461.8 C1287.8 463.4 1288.4 464.9 1289.1 466.4 C1289.7 468.0 1290.3 469.5 1290.9 471.1 C1291.5 472.6 1292.1 474.1 1292.7 475.7 C1293.3 477.2 1293.9 478.8 1294.5 480.3 C1295.1 481.8 1295.7 483.4 1296.4 484.9 C1297.0 486.5 1297.6 488.0 1298.2 489.6 C1298.8 491.1 1299.4 492.7 1300.0 494.2 C1300.6 495.8 1301.2 497.4 1301.8 498.9 C1302.4 500.5 1303.0 502.0 1303.6 503.6 C1304.2 505.1 1304.8 506.7 1305.4 508.3 C1306.0 509.8 1306.5 511.4 1307.1 513.0 C1307.7 514.5 1308.3 516.1 1308.9 517.7 C1309.5 519.2 1310.1 520.8 1310.7 522.4 C1311.3 524.0 1311.9 525.5 1312.5 527.1 C1313.1 528.7 1313.7 530.3 1314.3 531.8 C1314.9 533.4 1315.4 535.0 1316.0 536.6 C1316.6 538.1 1317.2 539.7 1317.8 541.3 C1318.4 542.9 1319.0 544.5 1319.5 546.0 C1320.1 547.6 1320.7 549.2 1321.3 550.8 C1321.8 552.4 1322.4 554.0 1323.0 555.5 C1323.5 557.1 1324.1 558.7 1324.7 560.3 C1325.2 561.9 1325.8 563.5 1326.4 565.1 C1326.9 566.6 1327.5 568.2 1328.0 569.8 C1328.6 571.4 1329.1 573.0 1329.7 574.6 C1330.2 576.2 1330.8 577.7 1331.3 579.3 C1331.9 580.9 1332.4 582.5 1332.9 584.1 C1333.5 585.7 1334.0 587.3 1334.5 588.9 C1335.1 590.4 1335.6 592.0 1336.1 593.6 C1336.6 595.2 1337.2 596.8 1337.7 598.4 C1338.2 600.0 1338.7 601.5 1339.2 603.1 C1339.7 604.7 1340.3 606.3 1340.8 607.9 C1341.3 609.5 1341.8 611.1 1342.3 612.6 C1342.8 614.2 1343.3 615.8 1343.8 617.4 C1344.4 619.0 1344.9 620.6 1345.4 622.2 C1345.9 623.7 1346.4 625.3 1346.9 626.9 C1347.4 628.5 1347.9 630.1 1348.4 631.7 C1348.9 633.3 1349.4 634.8 1350.0 636.4 C1350.5 638.0 1351.0 639.6 1351.5 641.2 C1352.0 642.8 1352.5 644.3 1353.0 645.9 C1353.5 647.5 1354.1 649.1 1354.6 650.7 C1355.1 652.3 1355.6 653.8 1356.1 655.4 C1356.6 657.0 1357.2 658.6 1357.7 660.2 C1358.2 661.7 1358.7 663.3 1359.3 664.9 C1359.8 666.5 1360.3 668.1 1360.8 669.6 C1361.4 671.2 1361.9 672.8 1362.4 674.4 C1363.0 676.0 1363.5 677.5 1364.1 679.1 C1364.6 680.7 1365.1 682.3 1365.7 683.8 C1366.2 685.4 1366.8 687.0 1367.3 688.6 C1367.8 690.1 1368.4 691.7 1368.9 693.3 C1369.5 694.9 1370.0 696.4 1370.6 698.0 C1371.2 699.6 1371.7 701.1 1372.3 702.7 C1372.8 704.3 1373.4 705.9 1374.0 707.4 C1374.5 709.0 1375.1 710.6 1375.7 712.1 C1376.2 713.7 1376.8 715.3 1377.4 716.8 C1377.9 718.4 1378.5 720.0 1379.1 721.5 C1379.7 723.1 1380.3 724.7 1380.8 726.2 C1381.4 727.8 1382.0 729.3 1382.6 730.9 C1383.2 732.5 1383.8 734.0 1384.4 735.6 C1385.0 737.1 1385.6 738.7 1386.2 740.3 C1386.8 741.8 1387.4 743.4 1388.0 744.9 C1388.6 746.5 1389.2 748.0 1389.8 749.6 C1390.4 751.1 1391.0 752.7 1391.6 754.2 C1392.3 755.8 1392.9 757.3 1393.5 758.9 C1394.1 760.4 1394.8 762.0 1395.4 763.5 C1396.0 765.1 1396.7 766.6 1397.3 768.2 C1397.9 769.7 1398.6 771.2 1399.2 772.8 C1399.9 774.3 1400.5 775.9 1401.2 777.4 C1401.8 778.9 1402.5 780.5 1403.1 782.0 C1403.8 783.6 1404.4 785.1 1405.1 786.6 C1405.8 788.2 1406.4 789.7 1407.1 791.2 C1407.8 792.8 1408.4 794.3 1409.1 795.8 C1409.8 797.3 1410.5 798.9 1411.2 800.4 C1411.9 801.9 1412.5 803.4 1413.2 805.0 C1413.9 806.5 1414.6 808.0 1415.3 809.5 C1416.0 811.0 1416.7 812.6 1417.4 814.1 C1418.1 815.6 1418.9 817.1 1419.6 818.6 C1420.3 820.1 1421.0 821.6 1421.7 823.2 C1422.5 824.7 1423.2 826.2 1423.9 827.7 C1424.7 829.2 1425.4 830.7 1426.1 832.2 C1426.9 833.7 1427.6 835.2 1428.4 836.7 C1429.1 838.2 1429.9 839.7 1430.6 841.2 C1431.4 842.7 1432.1 844.2 1432.9 845.7 C1433.7 847.2 1434.5 848.7 1435.2 850.1 C1436.0 851.6 1436.8 853.1 1437.6 854.6 C1438.4 856.1 1439.1 857.6 1439.9 859.0 C1440.7 860.5 1441.5 862.0 1442.3 863.5 C1443.1 864.9 1444.0 866.4 1444.8 867.9 C1445.6 869.3 1446.4 870.8 1447.2 872.3 C1448.0 873.7 1448.9 875.2 1449.7 876.6 C1450.5 878.1 1451.4 879.5 1452.2 881.0 C1453.1 882.4 1453.9 883.9 1454.8 885.3 C1455.6 886.8 1456.5 888.2 1457.4 889.6 C1458.2 891.1 1459.1 892.5 1460.0 893.9 C1460.9 895.3 1461.8 896.8 1462.7 898.2 C1463.5 899.6 1464.4 901.0 1465.3 902.4 C1466.2 903.8 1467.2 905.2 1468.1 906.6 C1469.0 908.0 1469.9 909.4 1470.8 910.8 C1471.8 912.2 1472.7 913.6 1473.6 914.9 C1474.6 916.3 1475.5 917.7 1476.5 919.1 C1477.4 920.4 1478.4 921.8 1479.3 923.2 C1480.3 924.5 1481.3 925.9 1482.3 927.2 C1483.2 928.6 1484.2 929.9 1485.2 931.2 C1486.2 932.6 1487.2 933.9 1488.2 935.2 C1489.2 936.5 1490.2 937.9 1491.3 939.2 C1492.3 940.5 1493.3 941.8 1494.3 943.1 C1495.4 944.4 1496.4 945.7 1497.5 947.0 C1498.5 948.3 1499.6 949.5 1500.6 950.8 C1501.7 952.1 1502.8 953.4 1503.8 954.6 C1504.9 955.9 1506.0 957.1 1507.1 958.4 C1508.2 959.6 1509.3 960.9 1510.4 962.1 C1511.5 963.3 1512.6 964.5 1513.8 965.8 C1514.9 967.0 1516.0 968.2 1517.1 969.4 C1518.3 970.6 1519.4 971.8 1520.6 973.0 C1521.7 974.2 1522.9 975.3 1524.1 976.5 C1525.3 977.7 1526.4 978.8 1527.6 980.0 C1528.8 981.2 1530.0 982.3 1531.2 983.4 C1532.4 984.6 1533.6 985.7 1534.9 986.8 C1536.1 988.0 1537.3 989.1 1538.6 990.2 C1539.8 991.3 1541.0 992.4 1542.3 993.5 C1543.6 994.5 1544.8 995.6 1546.1 996.7 C1547.4 997.8 1548.7 998.8 1549.9 999.9 C1551.2 1000.9 1552.5 1002.0 1553.8 1003.0 C1555.1 1004.1 1556.4 1005.1 1557.8 1006.1 C1559.1 1007.2 1560.4 1008.2 1561.7 1009.2 C1563.1 1010.2 1564.4 1011.2 1565.7 1012.2 C1567.1 1013.2 1568.4 1014.2 1569.8 1015.2 C1571.1 1016.2 1572.5 1017.2 1573.8 1018.2 C1575.2 1019.2 1576.6 1020.1 1577.9 1021.1 C1579.3 1022.1 1580.7 1023.0 1582.0 1024.0 C1583.4 1025.0 1584.8 1025.9 1586.2 1026.9 C1587.6 1027.9 1589.0 1028.8 1590.3 1029.8 C1591.7 1030.7 1593.1 1031.7 1594.5 1032.6 C1595.9 1033.6 1597.3 1034.5 1598.7 1035.5 C1600.1 1036.4 1601.5 1037.3 1602.9 1038.3 C1604.3 1039.2 1605.7 1040.2 1607.1 1041.1 C1608.5 1042.0 1609.9 1043.0 1611.3 1043.9 C1612.7 1044.8 1614.1 1045.8 1615.5 1046.7 C1616.9 1047.7 1618.3 1048.6 1619.7 1049.5 C1621.1 1050.5 1622.5 1051.4 1623.9 1052.3 C1625.3 1053.3 1626.7 1054.2 1628.1 1055.2 C1629.5 1056.1 1630.9 1057.0 1632.2 1058.0 C1633.6 1058.9 1635.0 1059.9 1636.4 1060.8 C1637.8 1061.8 1639.2 1062.7 1640.5 1063.7 C1641.9 1064.6 1643.3 1065.6 1644.7 1066.6 C1646.0 1067.5 1647.4 1068.5 1648.8 1069.5 C1650.1 1070.4 1651.5 1071.4 1652.8 1072.4 C1654.2 1073.4 1655.5 1074.3 1656.9 1075.3 C1658.2 1076.3 1659.5 1077.3 1660.9 1078.3 C1662.2 1079.3 1663.5 1080.3 1664.9 1081.3 C1666.2 1082.3 1667.5 1083.3 1668.8 1084.3 C1670.1 1085.3 1671.4 1086.3 1672.8 1087.3 C1674.1 1088.3 1675.4 1089.4 1676.7 1090.4 C1678.0 1091.4 1679.3 1092.4 1680.6 1093.4 C1681.9 1094.4 1683.2 1095.4 1684.5 1096.4 C1685.8 1097.4 1687.1 1098.4 1688.4 1099.4 C1689.7 1100.4 1691.0 1101.4 1692.3 1102.4 C1693.6 1103.4 1694.9 1104.4 1696.2 1105.4 C1697.5 1106.4 1698.8 1107.4 1700.1 1108.3 C1701.4 1109.3 1702.7 1110.3 1704.0 1111.3 C1705.3 1112.2 1706.6 1113.2 1707.9 1114.2 C1709.2 1115.2 1710.4 1116.2 1711.6 1117.3 C1712.8 1118.3 1714.0 1119.4 1715.1 1120.6 C1716.2 1121.8 1717.2 1123.0 1718.2 1124.3 C1719.2 1125.6 1720.2 1127.0 1721.1 1128.3 C1722.0 1129.7 1722.9 1131.1 1723.9 1132.5 C1724.8 1133.9 1725.7 1135.3 1726.6 1136.7 C1727.5 1138.1 1728.4 1139.5 1729.4 1140.9 C1730.3 1142.3 1731.2 1143.6 1732.2 1145.0 C1733.1 1146.4 1734.0 1147.8 1735.0 1149.2 C1735.9 1150.6 1736.9 1151.9 1737.9 1153.3 C1738.8 1154.7 1739.8 1156.0 1740.8 1157.4 C1741.8 1158.7 1742.7 1160.1 1743.7 1161.4 C1744.7 1162.8 1745.7 1164.1 1746.8 1165.5 C1747.8 1166.8 1748.8 1168.2 1749.8 1169.5 C1750.8 1170.8 1751.9 1172.1 1752.9 1173.4 C1754.0 1174.7 1755.0 1176.1 1756.1 1177.3 C1757.2 1178.6 1758.3 1179.9 1759.4 1181.2 C1760.5 1182.5 1761.6 1183.8 1762.7 1185.0 C1763.8 1186.3 1764.9 1187.5 1766.1 1188.8 C1767.2 1190.0 1768.4 1191.2 1769.5 1192.4 C1770.7 1193.6 1771.9 1194.8 1773.1 1196.0 C1774.3 1197.1 1775.5 1198.3 1776.7 1199.4 C1778.0 1200.5 1779.2 1201.6 1780.5 1202.7 C1781.8 1203.7 1783.1 1204.8 1784.4 1205.8 C1785.7 1206.8 1787.0 1207.8 1788.3 1208.8 C1789.7 1209.8 1791.0 1210.7 1792.4 1211.6 C1793.8 1212.5 1795.2 1213.3 1796.6 1214.2 C1798.0 1215.0 1799.5 1215.8 1800.9 1216.6 C1802.4 1217.4 1803.9 1218.1 1805.4 1218.9 C1806.8 1219.6 1808.3 1220.4 1809.8 1221.1 C1811.3 1221.9 1812.8 1222.6 1814.3 1223.4 C1815.8 1224.2 1817.2 1225.0 1818.7 1225.8 C1820.2 1226.7 1821.6 1227.5 1823.1 1228.4 C1824.6 1229.2 1826.0 1230.1 1827.5 1230.9 C1829.0 1231.7 1830.4 1232.6 1831.9 1233.4 C1833.4 1234.2 1834.9 1235.0 1836.4 1235.8 C1837.8 1236.6 1839.3 1237.4 1840.8 1238.1 C1842.3 1238.9 1843.8 1239.6 1845.3 1240.3 C1846.9 1241.0 1848.4 1241.7 1849.9 1242.4 C1851.4 1243.1 1853.0 1243.7 1854.5 1244.4 C1856.0 1245.0 1857.6 1245.6 1859.1 1246.2 C1860.7 1246.8 1862.2 1247.4 1863.8 1248.0 C1865.3 1248.6 1866.9 1249.2 1868.4 1249.7 C1870.0 1250.2 1871.6 1250.8 1873.1 1251.3 C1874.7 1251.8 1876.3 1252.3 1877.9 1252.8 C1879.5 1253.3 1881.1 1253.8 1882.7 1254.3 C1884.2 1254.7 1885.8 1255.2 1887.4 1255.6 C1889.0 1256.1 1890.6 1256.5 1892.2 1256.9 C1893.9 1257.3 1895.5 1257.8 1897.1 1258.2 C1898.7 1258.6 1900.3 1258.9 1901.9 1259.3 C1903.5 1259.7 1905.2 1260.1 1906.8 1260.4 C1908.4 1260.8 1910.1 1261.2 1911.7 1261.5 C1913.3 1261.9 1914.9 1262.2 1916.6 1262.5 C1918.2 1262.9 1919.9 1263.2 1921.5 1263.5 C1923.1 1263.8 1924.8 1264.2 1926.4 1264.5 C1928.1 1264.8 1929.7 1265.1 1931.4 1265.4 C1933.0 1265.7 1934.7 1266.0 1936.3 1266.3 C1937.9 1266.6 1939.6 1266.8 1941.3 1267.1 C1942.9 1267.4 1944.6 1267.7 1946.2 1268.0 C1947.9 1268.2 1949.5 1268.5 1951.2 1268.8 C1952.8 1269.1 1954.5 1269.3 1956.1 1269.6 C1957.8 1269.9 1959.4 1270.1 1961.1 1270.4 C1962.8 1270.7 1964.4 1271.0 1966.1 1271.2 C1967.7 1271.5 1969.4 1271.8 1971.0 1272.0 C1972.7 1272.3 1974.3 1272.6 1976.0 1272.9 C1977.6 1273.1 1979.3 1273.4 1980.9 1273.7 C1982.6 1274.0 1984.2 1274.3 1985.9 1274.5 C1987.5 1274.8 1989.2 1275.1 1990.8 1275.4 C1992.5 1275.7 1994.1 1276.0 1995.8 1276.3 C1997.4 1276.6 1999.0 1276.9 2000.7 1277.2 C2002.3 1277.6 2004.0 1277.9 2005.6 1278.2 C2007.2 1278.5 2008.9 1278.9 2010.5 1279.2 C2012.1 1279.6 2013.7 1279.9 2015.4 1280.3 C2017.0 1280.6 2018.6 1281.0 2020.2 1281.4 C2021.8 1281.7 2023.5 1282.1 2025.1 1282.5 C2026.7 1282.9 2029.1 1283.5 2029.9 1283.7"/>
</g>
<text class="tk" text-anchor="end" transform="translate(215.3 1464.0) scale(1 1.022)">0</text>
<text class="tk" text-anchor="end" transform="translate(215.3 1207.5) scale(1 1.022)">20</text>
<text class="tk" text-anchor="end" transform="translate(215.3 950.9) scale(1 1.022)">40</text>
<text class="tk" text-anchor="end" transform="translate(215.3 694.4) scale(1 1.022)">60</text>
<text class="tk" text-anchor="end" transform="translate(215.3 437.8) scale(1 1.022)">80</text>
<text class="tk" text-anchor="end" transform="translate(215.3 181.3) scale(1 1.022)">100</text>
<text class="tk" text-anchor="middle" transform="translate(490.2 1546.6) scale(1 1.022)">100</text>
<text class="tk" text-anchor="middle" transform="translate(794.2 1546.6) scale(1 1.022)">200</text>
<text class="tk" text-anchor="middle" transform="translate(1098.2 1546.6) scale(1 1.022)">300</text>
<text class="tk" text-anchor="middle" transform="translate(1402.2 1546.6) scale(1 1.022)">400</text>
<text class="tk" text-anchor="middle" transform="translate(1706.2 1546.6) scale(1 1.022)">500</text>
<text class="tk" text-anchor="middle" transform="translate(2010.2 1546.6) scale(1 1.022)">600</text>
<text class="ttl" text-anchor="start" transform="translate(821.5 1649.0) scale(1 1.022)">Temperature (<tspan font-size="51" dx="-2" dy="-30.5">O</tspan><tspan dx="-1" dy="30.5">C)</tspan></text>
<text class="ttl" text-anchor="start" transform="translate(97.0 1053.5) rotate(-90) scale(1 1.022)">Mass loss (%)</text>
<g class="cv" stroke-width="15.4">
<line x1="1511.5" y1="116.0" x2="1674" y2="116.0" stroke="#ec0000"/>
<line x1="1511.5" y1="208.0" x2="1674" y2="208.0" stroke="#2f639e"/>
<line x1="1511.5" y1="300.0" x2="1674" y2="300.0" stroke="#ffc20f"/>
<line x1="1511.5" y1="393.4" x2="1674" y2="393.4" stroke="#3bc46d"/>
</g>
<text class="lg" text-anchor="start" transform="translate(1694.3 139.0) scale(1 1.022)">0.0 <tspan dx="3.4">wt%</tspan></text>
<text class="lg" text-anchor="start" transform="translate(1694.3 231.0) scale(1 1.022)">0.3 <tspan dx="3.4">wt%</tspan></text>
<text class="lg" text-anchor="start" transform="translate(1694.3 324.5) scale(1 1.022)">0.7 <tspan dx="3.4">wt%</tspan></text>
<text class="lg" text-anchor="start" transform="translate(1694.3 417.5) scale(1 1.022)">1.0 <tspan dx="3.4">wt%</tspan></text>
</svg>
</body>
</html>
